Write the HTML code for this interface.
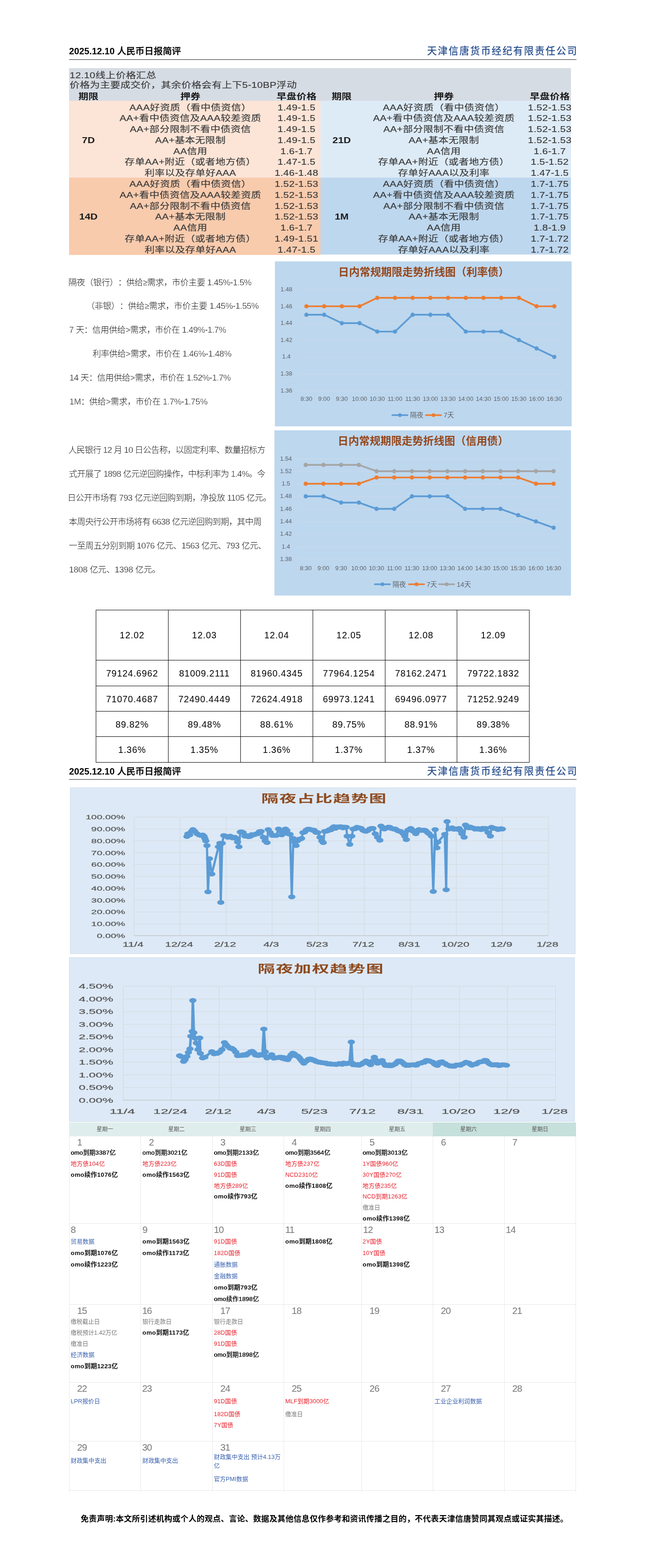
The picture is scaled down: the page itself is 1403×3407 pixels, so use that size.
<!DOCTYPE html><html lang="zh-CN"><head><meta charset="utf-8"><title>2025.12.10 人民币日报简评</title><style>
html,body{margin:0;padding:0;background:#fff;}
body{width:1403px;height:3407px;position:relative;overflow:hidden;font-family:"Liberation Sans","Noto Sans CJK SC",sans-serif;color:#000;}
.abs{position:absolute;}
.hdl{position:absolute;left:150px;font-weight:bold;font-size:19.8px;line-height:24px;white-space:nowrap;color:#000;}
.hdl .m{font-weight:500;-webkit-text-stroke:0.35px #000;}
.hdr{position:absolute;right:148px;font-size:21.3px;line-height:26px;letter-spacing:2.1px;white-space:nowrap;color:#2c5291;font-weight:500;}
.hline{position:absolute;left:150px;width:1102px;height:1.4px;background:#222;}
.t1{position:absolute;left:150px;top:148px;width:1090px;height:405px;font-size:18px;color:#3a3a3a;letter-spacing:0.3px;-webkit-text-stroke:0.2px #3a3a3a;}
.t1 .bg{position:absolute;}
.t1 .sx{position:absolute;left:0;top:0;width:904px;height:405px;transform:scaleX(1.205);transform-origin:0 0;}
.t1 .c{position:absolute;height:24px;line-height:24px;text-align:center;white-space:nowrap;transform:translateX(-50%);}
.t1 .l{position:absolute;height:24px;line-height:24px;white-space:nowrap;}
.t1 .b{font-weight:bold;color:#1a1a1a;letter-spacing:0;-webkit-text-stroke:0;}
.p{position:absolute;left:150px;font-family:"Liberation Sans","Noto Sans CJK SC",sans-serif;font-weight:300;font-size:18.4px;line-height:52px;color:#111;white-space:nowrap;text-spacing-trim:space-all;}
.p .d{-webkit-text-stroke:0.32px #fff;color:#1a1a1a;}
.dt2 .bl{position:absolute;background:#000;}
.dt2 .tx{position:absolute;height:24px;line-height:24px;text-align:center;font-size:19.6px;letter-spacing:0.95px;color:#000;white-space:nowrap;}
.cal{position:absolute;left:150px;top:2439px;width:1101px;height:803px;font-family:"Liberation Sans","Noto Sans CJK SC",sans-serif;}
.cal .h{position:absolute;top:0;height:29.5px;line-height:31px;text-align:center;font-size:12px;color:#555;background:#dfeeec;}
.cal .h.we{background:#c6e0dc;}
.cal .vl{position:absolute;width:1px;background:#e8e8e8;}
.cal .hl{position:absolute;height:1px;background:#e8e8e8;left:0;width:1101px;}
.cal .n{position:absolute;font-size:20.5px;line-height:24px;color:#777;font-weight:300;white-space:nowrap;letter-spacing:-1px;}
.cal .e{position:absolute;font-size:13.6px;line-height:18px;font-weight:bold;white-space:nowrap;color:#111;letter-spacing:0.3px;}
.cal .e.n{font-weight:normal;font-size:13.3px;letter-spacing:0.25px;color:#000;text-shadow:0.3px 0 0 #000;}
.cal .e.r{color:#e8202a;font-weight:normal;font-size:12.9px;letter-spacing:0.2px;}
.cal .e.g{color:#777;font-weight:normal;font-size:12.7px;letter-spacing:0;}
.cal .e.u{color:#3a62b0;font-weight:normal;font-size:12.9px;letter-spacing:0;}
.ft{position:absolute;left:175.3px;top:3285.5px;font-size:17.33px;line-height:28px;font-weight:bold;color:#000;white-space:nowrap;letter-spacing:0.22px;}
svg text{font-family:"Liberation Sans","Noto Sans CJK SC",sans-serif;}
</style></head><body>
<div class="hdl" style="top:99px">2025.12.10 <span class="m">人民币日报简评</span></div>
<div class="hdr" style="top:98px">天津信唐货币经纪有限责任公司</div>
<div class="hline" style="top:129px"></div>
<div class="hdl" style="top:1663.5px">2025.12.10 <span class="m">人民币日报简评</span></div>
<div class="hdr" style="top:1662.5px">天津信唐货币经纪有限责任公司</div>
<div class="hline" style="top:1692.5px"></div>
<div class="t1">
<div class="bg" style="left:0;top:0;width:1090px;height:72px;background:#d6dce4"></div>
<div class="bg" style="left:0;top:71px;width:546px;height:167.5px;background:#fce4d6"></div>
<div class="bg" style="left:0;top:238px;width:546px;height:167.5px;background:#f8cbad"></div>
<div class="bg" style="left:546px;top:71px;width:544px;height:167.5px;background:#ddebf7"></div>
<div class="bg" style="left:546px;top:238px;width:544px;height:166.5px;background:#bdd7ee"></div>
<div class="sx">
<div class="l" style="left:1px;top:3.5px">12.10线上价格汇总</div>
<div class="l" style="left:1px;top:25px">价格为主要成交价，其余价格会有上下5-10BP浮动</div>
<div class="c b" style="left:34.8548px;top:50px">期限</div>
<div class="c b" style="left:218.672px;top:50px">押券</div>
<div class="c b" style="left:409.959px;top:50px">早盘价格</div>
<div class="c b" style="left:491.286px;top:50px">期限</div>
<div class="c b" style="left:675.519px;top:50px">押券</div>
<div class="c b" style="left:866.39px;top:50px">早盘价格</div>
<div class="c " style="left:218.672px;top:73.5px">AAA好资质（看中债资信）</div>
<div class="c " style="left:409.959px;top:73.5px">1.49-1.5</div>
<div class="c " style="left:218.672px;top:97.28px">AA+看中债资信及AAA较差资质</div>
<div class="c " style="left:409.959px;top:97.28px">1.49-1.5</div>
<div class="c " style="left:218.672px;top:121.06px">AA+部分限制不看中债资信</div>
<div class="c " style="left:409.959px;top:121.06px">1.49-1.5</div>
<div class="c " style="left:218.672px;top:144.84px">AA+基本无限制</div>
<div class="c " style="left:409.959px;top:144.84px">1.49-1.5</div>
<div class="c " style="left:218.672px;top:168.62px">AA信用</div>
<div class="c " style="left:409.959px;top:168.62px">1.6-1.7</div>
<div class="c " style="left:218.672px;top:192.4px">存单AA+附近（或者地方债）</div>
<div class="c " style="left:409.959px;top:192.4px">1.47-1.5</div>
<div class="c " style="left:218.672px;top:216.18px">利率以及存单好AAA</div>
<div class="c " style="left:409.959px;top:216.18px">1.46-1.48</div>
<div class="c b" style="left:34.8548px;top:144.84px">7D</div>
<div class="c " style="left:218.672px;top:239.96px">AAA好资质（看中债资信）</div>
<div class="c " style="left:409.959px;top:239.96px">1.52-1.53</div>
<div class="c " style="left:218.672px;top:263.74px">AA+看中债资信及AAA较差资质</div>
<div class="c " style="left:409.959px;top:263.74px">1.52-1.53</div>
<div class="c " style="left:218.672px;top:287.52px">AA+部分限制不看中债资信</div>
<div class="c " style="left:409.959px;top:287.52px">1.52-1.53</div>
<div class="c " style="left:218.672px;top:311.3px">AA+基本无限制</div>
<div class="c " style="left:409.959px;top:311.3px">1.52-1.53</div>
<div class="c " style="left:218.672px;top:335.08px">AA信用</div>
<div class="c " style="left:409.959px;top:335.08px">1.6-1.7</div>
<div class="c " style="left:218.672px;top:358.86px">存单AA+附近（或者地方债）</div>
<div class="c " style="left:409.959px;top:358.86px">1.49-1.51</div>
<div class="c " style="left:218.672px;top:382.64px">利率以及存单好AAA</div>
<div class="c " style="left:409.959px;top:382.64px">1.47-1.5</div>
<div class="c b" style="left:34.8548px;top:311.3px">14D</div>
<div class="c " style="left:675.519px;top:73.5px">AAA好资质（看中债资信）</div>
<div class="c " style="left:866.39px;top:73.5px">1.52-1.53</div>
<div class="c " style="left:675.519px;top:97.28px">AA+看中债资信及AAA较差资质</div>
<div class="c " style="left:866.39px;top:97.28px">1.52-1.53</div>
<div class="c " style="left:675.519px;top:121.06px">AA+部分限制不看中债资信</div>
<div class="c " style="left:866.39px;top:121.06px">1.52-1.53</div>
<div class="c " style="left:675.519px;top:144.84px">AA+基本无限制</div>
<div class="c " style="left:866.39px;top:144.84px">1.52-1.53</div>
<div class="c " style="left:675.519px;top:168.62px">AA信用</div>
<div class="c " style="left:866.39px;top:168.62px">1.6-1.7</div>
<div class="c " style="left:675.519px;top:192.4px">存单AA+附近（或者地方债）</div>
<div class="c " style="left:866.39px;top:192.4px">1.5-1.52</div>
<div class="c " style="left:675.519px;top:216.18px">存单好AAA以及利率</div>
<div class="c " style="left:866.39px;top:216.18px">1.47-1.5</div>
<div class="c b" style="left:491.286px;top:144.84px">21D</div>
<div class="c " style="left:675.519px;top:239.96px">AAA好资质（看中债资信）</div>
<div class="c " style="left:866.39px;top:239.96px">1.7-1.75</div>
<div class="c " style="left:675.519px;top:263.74px">AA+看中债资信及AAA较差资质</div>
<div class="c " style="left:866.39px;top:263.74px">1.7-1.75</div>
<div class="c " style="left:675.519px;top:287.52px">AA+部分限制不看中债资信</div>
<div class="c " style="left:866.39px;top:287.52px">1.7-1.75</div>
<div class="c " style="left:675.519px;top:311.3px">AA+基本无限制</div>
<div class="c " style="left:866.39px;top:311.3px">1.7-1.75</div>
<div class="c " style="left:675.519px;top:335.08px">AA信用</div>
<div class="c " style="left:866.39px;top:335.08px">1.8-1.9</div>
<div class="c " style="left:675.519px;top:358.86px">存单AA+附近（或者地方债）</div>
<div class="c " style="left:866.39px;top:358.86px">1.7-1.72</div>
<div class="c " style="left:675.519px;top:382.64px">存单好AAA以及利率</div>
<div class="c " style="left:866.39px;top:382.64px">1.7-1.72</div>
<div class="c b" style="left:491.286px;top:311.3px">1M</div>
</div></div>
<div class="p" id="a1" style="left:148.6px;top:587.5px;letter-spacing:-0.444px">隔夜（银行）：供给<span class="d">≥</span>需求，市价主要 <span class="d">1.45%-1.5%</span></div>
<div class="p" id="a2" style="left:187.4px;top:638.5px;letter-spacing:-0.323px">（非银）：供给<span class="d">≥</span>需求，市价主要 <span class="d">1.45%-1.55%</span></div>
<div class="p" id="a3" style="left:150.2px;top:690.5px;letter-spacing:-0.432px"><span class="d">7</span> 天：信用供给<span class="d">&gt;</span>需求，市价在 <span class="d">1.49%-1.7%</span></div>
<div class="p" id="a4" style="left:201px;top:742.5px;letter-spacing:-0.382px">利率供给<span class="d">&gt;</span>需求，市价在 <span class="d">1.46%-1.48%</span></div>
<div class="p" id="a5" style="left:150.8px;top:794.5px;letter-spacing:-0.454px"><span class="d">14</span> 天：信用供给<span class="d">&gt;</span>需求，市价在 <span class="d">1.52%-1.7%</span></div>
<div class="p" id="a6" style="left:150.8px;top:846.5px;letter-spacing:-0.327px"><span class="d">1M</span>：供给<span class="d">&gt;</span>需求，市价在 <span class="d">1.7%-1.75%</span></div>
<div class="p" id="b1" style="left:148.6px;top:952px;letter-spacing:-0.7px">人民银行 <span class="d">12</span> 月 <span class="d">10</span> 日公告称，以固定利率、数量招标方</div>
<div class="p" id="b2" style="left:149.6px;top:1004px;letter-spacing:-0.71px">式开展了 <span class="d">1898</span> 亿元逆回购操作，中标利率为 <span class="d">1.4%</span>。今</div>
<div class="p" id="b3" style="left:146.6px;top:1056px;letter-spacing:-0.52px">日公开市场有 <span class="d">793</span> 亿元逆回购到期，净投放 <span class="d">1105</span> 亿元。</div>
<div class="p" id="b4" style="left:149.6px;top:1108px;letter-spacing:-0.715px">本周央行公开市场将有 <span class="d">6638</span> 亿元逆回购到期，其中周</div>
<div class="p" id="b5" style="left:149.6px;top:1160px;letter-spacing:-0.535px">一至周五分别到期 <span class="d">1076</span> 亿元、<span class="d">1563</span> 亿元、<span class="d">793</span> 亿元、</div>
<div class="p" id="b6" style="left:150px;top:1212px;letter-spacing:-0.267px"><span class="d">1808</span> 亿元、<span class="d">1398</span> 亿元。</div>
<svg class="abs" style="left:597px;top:568px" width="644.5" height="358.5" viewBox="0 0 644.5 358.5">
<rect x="0" y="0" width="644.5" height="358.5" fill="#bdd7ee"/>
<text x="323.25" y="31.3" text-anchor="middle" font-size="23.2" font-weight="bold" fill="#96471c">日内常规期限走势折线图（利率债）</text>
<line x1="49.5" y1="61.7" x2="625.8" y2="61.7" stroke="#ccdaea" stroke-width="1"/>
<text x="25" y="64.9" text-anchor="middle" font-size="13.2" fill="#5f6368">1.48</text>
<line x1="49.5" y1="98.34" x2="625.8" y2="98.34" stroke="#ccdaea" stroke-width="1"/>
<text x="25" y="101.54" text-anchor="middle" font-size="13.2" fill="#5f6368">1.46</text>
<line x1="49.5" y1="134.98" x2="625.8" y2="134.98" stroke="#ccdaea" stroke-width="1"/>
<text x="25" y="138.18" text-anchor="middle" font-size="13.2" fill="#5f6368">1.44</text>
<line x1="49.5" y1="171.62" x2="625.8" y2="171.62" stroke="#ccdaea" stroke-width="1"/>
<text x="25" y="174.82" text-anchor="middle" font-size="13.2" fill="#5f6368">1.42</text>
<line x1="49.5" y1="208.26" x2="625.8" y2="208.26" stroke="#ccdaea" stroke-width="1"/>
<text x="25" y="211.46" text-anchor="middle" font-size="13.2" fill="#5f6368">1.4</text>
<line x1="49.5" y1="244.9" x2="625.8" y2="244.9" stroke="#ccdaea" stroke-width="1"/>
<text x="25" y="248.1" text-anchor="middle" font-size="13.2" fill="#5f6368">1.38</text>
<line x1="49.5" y1="281.54" x2="625.8" y2="281.54" stroke="#ccdaea" stroke-width="1"/>
<text x="25" y="284.74" text-anchor="middle" font-size="13.2" fill="#5f6368">1.36</text>
<text x="68.5" y="302.6" text-anchor="middle" font-size="13.2" fill="#5f6368">8:30</text>
<text x="106.95" y="302.6" text-anchor="middle" font-size="13.2" fill="#5f6368">9:00</text>
<text x="145.4" y="302.6" text-anchor="middle" font-size="13.2" fill="#5f6368">9:30</text>
<text x="183.85" y="302.6" text-anchor="middle" font-size="13.2" fill="#5f6368">10:00</text>
<text x="222.3" y="302.6" text-anchor="middle" font-size="13.2" fill="#5f6368">10:30</text>
<text x="260.75" y="302.6" text-anchor="middle" font-size="13.2" fill="#5f6368">11:00</text>
<text x="299.2" y="302.6" text-anchor="middle" font-size="13.2" fill="#5f6368">11:30</text>
<text x="337.65" y="302.6" text-anchor="middle" font-size="13.2" fill="#5f6368">13:00</text>
<text x="376.1" y="302.6" text-anchor="middle" font-size="13.2" fill="#5f6368">13:30</text>
<text x="414.55" y="302.6" text-anchor="middle" font-size="13.2" fill="#5f6368">14:00</text>
<text x="453" y="302.6" text-anchor="middle" font-size="13.2" fill="#5f6368">14:30</text>
<text x="491.45" y="302.6" text-anchor="middle" font-size="13.2" fill="#5f6368">15:00</text>
<text x="529.9" y="302.6" text-anchor="middle" font-size="13.2" fill="#5f6368">15:30</text>
<text x="568.35" y="302.6" text-anchor="middle" font-size="13.2" fill="#5f6368">16:00</text>
<text x="606.8" y="302.6" text-anchor="middle" font-size="13.2" fill="#5f6368">16:30</text>
<polyline fill="none" stroke="#5b9bd5" stroke-width="3.7" stroke-linejoin="round" stroke-linecap="round" points="68.5,115.9 107.0,115.9 145.4,134.2 183.9,134.2 222.3,152.5 260.8,152.5 299.2,115.9 337.7,115.9 376.1,115.9 414.6,152.5 453.0,152.5 491.5,152.5 529.9,170.8 568.4,189.1 606.8,207.5"/>
<circle cx="68.5" cy="115.9" r="4.6" fill="#5b9bd5"/>
<circle cx="107.0" cy="115.9" r="4.6" fill="#5b9bd5"/>
<circle cx="145.4" cy="134.2" r="4.6" fill="#5b9bd5"/>
<circle cx="183.9" cy="134.2" r="4.6" fill="#5b9bd5"/>
<circle cx="222.3" cy="152.5" r="4.6" fill="#5b9bd5"/>
<circle cx="260.8" cy="152.5" r="4.6" fill="#5b9bd5"/>
<circle cx="299.2" cy="115.9" r="4.6" fill="#5b9bd5"/>
<circle cx="337.7" cy="115.9" r="4.6" fill="#5b9bd5"/>
<circle cx="376.1" cy="115.9" r="4.6" fill="#5b9bd5"/>
<circle cx="414.6" cy="152.5" r="4.6" fill="#5b9bd5"/>
<circle cx="453.0" cy="152.5" r="4.6" fill="#5b9bd5"/>
<circle cx="491.5" cy="152.5" r="4.6" fill="#5b9bd5"/>
<circle cx="529.9" cy="170.8" r="4.6" fill="#5b9bd5"/>
<circle cx="568.4" cy="189.1" r="4.6" fill="#5b9bd5"/>
<circle cx="606.8" cy="207.5" r="4.6" fill="#5b9bd5"/>
<polyline fill="none" stroke="#ed7d31" stroke-width="3.7" stroke-linejoin="round" stroke-linecap="round" points="68.5,97.5 107.0,97.5 145.4,97.5 183.9,97.5 222.3,79.2 260.8,79.2 299.2,79.2 337.7,79.2 376.1,79.2 414.6,79.2 453.0,79.2 491.5,79.2 529.9,79.2 568.4,97.5 606.8,97.5"/>
<circle cx="68.5" cy="97.5" r="4.6" fill="#ed7d31"/>
<circle cx="107.0" cy="97.5" r="4.6" fill="#ed7d31"/>
<circle cx="145.4" cy="97.5" r="4.6" fill="#ed7d31"/>
<circle cx="183.9" cy="97.5" r="4.6" fill="#ed7d31"/>
<circle cx="222.3" cy="79.2" r="4.6" fill="#ed7d31"/>
<circle cx="260.8" cy="79.2" r="4.6" fill="#ed7d31"/>
<circle cx="299.2" cy="79.2" r="4.6" fill="#ed7d31"/>
<circle cx="337.7" cy="79.2" r="4.6" fill="#ed7d31"/>
<circle cx="376.1" cy="79.2" r="4.6" fill="#ed7d31"/>
<circle cx="414.6" cy="79.2" r="4.6" fill="#ed7d31"/>
<circle cx="453.0" cy="79.2" r="4.6" fill="#ed7d31"/>
<circle cx="491.5" cy="79.2" r="4.6" fill="#ed7d31"/>
<circle cx="529.9" cy="79.2" r="4.6" fill="#ed7d31"/>
<circle cx="568.4" cy="97.5" r="4.6" fill="#ed7d31"/>
<circle cx="606.8" cy="97.5" r="4.6" fill="#ed7d31"/>
<line x1="255" y1="334" x2="288" y2="334" stroke="#5b9bd5" stroke-width="3.5" stroke-linecap="round"/>
<circle cx="271.5" cy="334" r="4" fill="#5b9bd5"/>
<text x="293.5" y="339.2" font-size="14.5" fill="#5f6368">隔夜</text>
<line x1="328" y1="334" x2="361" y2="334" stroke="#ed7d31" stroke-width="3.5" stroke-linecap="round"/>
<circle cx="344.5" cy="334" r="4" fill="#ed7d31"/>
<text x="366.5" y="339.2" font-size="14.5" fill="#5f6368">7天</text>
</svg>
<svg class="abs" style="left:596px;top:935px" width="644" height="359" viewBox="0 0 644 359">
<rect x="0" y="0" width="644" height="359" fill="#bdd7ee"/>
<text x="323" y="31.3" text-anchor="middle" font-size="23.2" font-weight="bold" fill="#96471c">日内常规期限走势折线图（信用债）</text>
<line x1="49" y1="62.3" x2="625.3" y2="62.3" stroke="#ccdaea" stroke-width="1"/>
<text x="25" y="65.5" text-anchor="middle" font-size="13.2" fill="#5f6368">1.54</text>
<line x1="49" y1="89.6" x2="625.3" y2="89.6" stroke="#ccdaea" stroke-width="1"/>
<text x="25" y="92.8" text-anchor="middle" font-size="13.2" fill="#5f6368">1.52</text>
<line x1="49" y1="116.9" x2="625.3" y2="116.9" stroke="#ccdaea" stroke-width="1"/>
<text x="25" y="120.1" text-anchor="middle" font-size="13.2" fill="#5f6368">1.5</text>
<line x1="49" y1="144.2" x2="625.3" y2="144.2" stroke="#ccdaea" stroke-width="1"/>
<text x="25" y="147.4" text-anchor="middle" font-size="13.2" fill="#5f6368">1.48</text>
<line x1="49" y1="171.5" x2="625.3" y2="171.5" stroke="#ccdaea" stroke-width="1"/>
<text x="25" y="174.7" text-anchor="middle" font-size="13.2" fill="#5f6368">1.46</text>
<line x1="49" y1="198.8" x2="625.3" y2="198.8" stroke="#ccdaea" stroke-width="1"/>
<text x="25" y="202" text-anchor="middle" font-size="13.2" fill="#5f6368">1.44</text>
<line x1="49" y1="226.1" x2="625.3" y2="226.1" stroke="#ccdaea" stroke-width="1"/>
<text x="25" y="229.3" text-anchor="middle" font-size="13.2" fill="#5f6368">1.42</text>
<line x1="49" y1="253.4" x2="625.3" y2="253.4" stroke="#ccdaea" stroke-width="1"/>
<text x="25" y="256.6" text-anchor="middle" font-size="13.2" fill="#5f6368">1.4</text>
<line x1="49" y1="280.7" x2="625.3" y2="280.7" stroke="#ccdaea" stroke-width="1"/>
<text x="25" y="283.9" text-anchor="middle" font-size="13.2" fill="#5f6368">1.38</text>
<text x="68" y="303.6" text-anchor="middle" font-size="13.2" fill="#5f6368">8:30</text>
<text x="106.45" y="303.6" text-anchor="middle" font-size="13.2" fill="#5f6368">9:00</text>
<text x="144.9" y="303.6" text-anchor="middle" font-size="13.2" fill="#5f6368">9:30</text>
<text x="183.35" y="303.6" text-anchor="middle" font-size="13.2" fill="#5f6368">10:00</text>
<text x="221.8" y="303.6" text-anchor="middle" font-size="13.2" fill="#5f6368">10:30</text>
<text x="260.25" y="303.6" text-anchor="middle" font-size="13.2" fill="#5f6368">11:00</text>
<text x="298.7" y="303.6" text-anchor="middle" font-size="13.2" fill="#5f6368">11:30</text>
<text x="337.15" y="303.6" text-anchor="middle" font-size="13.2" fill="#5f6368">13:00</text>
<text x="375.6" y="303.6" text-anchor="middle" font-size="13.2" fill="#5f6368">13:30</text>
<text x="414.05" y="303.6" text-anchor="middle" font-size="13.2" fill="#5f6368">14:00</text>
<text x="452.5" y="303.6" text-anchor="middle" font-size="13.2" fill="#5f6368">14:30</text>
<text x="490.95" y="303.6" text-anchor="middle" font-size="13.2" fill="#5f6368">15:00</text>
<text x="529.4" y="303.6" text-anchor="middle" font-size="13.2" fill="#5f6368">15:30</text>
<text x="567.85" y="303.6" text-anchor="middle" font-size="13.2" fill="#5f6368">16:00</text>
<text x="606.3" y="303.6" text-anchor="middle" font-size="13.2" fill="#5f6368">16:30</text>
<polyline fill="none" stroke="#5b9bd5" stroke-width="3.7" stroke-linejoin="round" stroke-linecap="round" points="68.0,143.4 106.5,143.4 144.9,157.1 183.4,157.1 221.8,170.7 260.2,170.7 298.7,143.4 337.2,143.4 375.6,143.4 414.1,170.7 452.5,170.7 491.0,170.7 529.4,184.4 567.9,198.0 606.3,211.7"/>
<circle cx="68.0" cy="143.4" r="4.6" fill="#5b9bd5"/>
<circle cx="106.5" cy="143.4" r="4.6" fill="#5b9bd5"/>
<circle cx="144.9" cy="157.1" r="4.6" fill="#5b9bd5"/>
<circle cx="183.4" cy="157.1" r="4.6" fill="#5b9bd5"/>
<circle cx="221.8" cy="170.7" r="4.6" fill="#5b9bd5"/>
<circle cx="260.2" cy="170.7" r="4.6" fill="#5b9bd5"/>
<circle cx="298.7" cy="143.4" r="4.6" fill="#5b9bd5"/>
<circle cx="337.2" cy="143.4" r="4.6" fill="#5b9bd5"/>
<circle cx="375.6" cy="143.4" r="4.6" fill="#5b9bd5"/>
<circle cx="414.1" cy="170.7" r="4.6" fill="#5b9bd5"/>
<circle cx="452.5" cy="170.7" r="4.6" fill="#5b9bd5"/>
<circle cx="491.0" cy="170.7" r="4.6" fill="#5b9bd5"/>
<circle cx="529.4" cy="184.4" r="4.6" fill="#5b9bd5"/>
<circle cx="567.9" cy="198.0" r="4.6" fill="#5b9bd5"/>
<circle cx="606.3" cy="211.7" r="4.6" fill="#5b9bd5"/>
<polyline fill="none" stroke="#ed7d31" stroke-width="3.7" stroke-linejoin="round" stroke-linecap="round" points="68.0,116.1 106.5,116.1 144.9,116.1 183.4,116.1 221.8,102.5 260.2,102.5 298.7,102.5 337.2,102.5 375.6,102.5 414.1,102.5 452.5,102.5 491.0,102.5 529.4,102.5 567.9,116.1 606.3,116.1"/>
<circle cx="68.0" cy="116.1" r="4.6" fill="#ed7d31"/>
<circle cx="106.5" cy="116.1" r="4.6" fill="#ed7d31"/>
<circle cx="144.9" cy="116.1" r="4.6" fill="#ed7d31"/>
<circle cx="183.4" cy="116.1" r="4.6" fill="#ed7d31"/>
<circle cx="221.8" cy="102.5" r="4.6" fill="#ed7d31"/>
<circle cx="260.2" cy="102.5" r="4.6" fill="#ed7d31"/>
<circle cx="298.7" cy="102.5" r="4.6" fill="#ed7d31"/>
<circle cx="337.2" cy="102.5" r="4.6" fill="#ed7d31"/>
<circle cx="375.6" cy="102.5" r="4.6" fill="#ed7d31"/>
<circle cx="414.1" cy="102.5" r="4.6" fill="#ed7d31"/>
<circle cx="452.5" cy="102.5" r="4.6" fill="#ed7d31"/>
<circle cx="491.0" cy="102.5" r="4.6" fill="#ed7d31"/>
<circle cx="529.4" cy="102.5" r="4.6" fill="#ed7d31"/>
<circle cx="567.9" cy="116.1" r="4.6" fill="#ed7d31"/>
<circle cx="606.3" cy="116.1" r="4.6" fill="#ed7d31"/>
<polyline fill="none" stroke="#a5a5a5" stroke-width="3.7" stroke-linejoin="round" stroke-linecap="round" points="68.0,75.2 106.5,75.2 144.9,75.2 183.4,75.2 221.8,88.8 260.2,88.8 298.7,88.8 337.2,88.8 375.6,88.8 414.1,88.8 452.5,88.8 491.0,88.8 529.4,88.8 567.9,88.8 606.3,88.8"/>
<circle cx="68.0" cy="75.2" r="4.6" fill="#a5a5a5"/>
<circle cx="106.5" cy="75.2" r="4.6" fill="#a5a5a5"/>
<circle cx="144.9" cy="75.2" r="4.6" fill="#a5a5a5"/>
<circle cx="183.4" cy="75.2" r="4.6" fill="#a5a5a5"/>
<circle cx="221.8" cy="88.8" r="4.6" fill="#a5a5a5"/>
<circle cx="260.2" cy="88.8" r="4.6" fill="#a5a5a5"/>
<circle cx="298.7" cy="88.8" r="4.6" fill="#a5a5a5"/>
<circle cx="337.2" cy="88.8" r="4.6" fill="#a5a5a5"/>
<circle cx="375.6" cy="88.8" r="4.6" fill="#a5a5a5"/>
<circle cx="414.1" cy="88.8" r="4.6" fill="#a5a5a5"/>
<circle cx="452.5" cy="88.8" r="4.6" fill="#a5a5a5"/>
<circle cx="491.0" cy="88.8" r="4.6" fill="#a5a5a5"/>
<circle cx="529.4" cy="88.8" r="4.6" fill="#a5a5a5"/>
<circle cx="567.9" cy="88.8" r="4.6" fill="#a5a5a5"/>
<circle cx="606.3" cy="88.8" r="4.6" fill="#a5a5a5"/>
<line x1="218" y1="334.5" x2="251" y2="334.5" stroke="#5b9bd5" stroke-width="3.5" stroke-linecap="round"/>
<circle cx="234.5" cy="334.5" r="4" fill="#5b9bd5"/>
<text x="256.5" y="339.7" font-size="14.5" fill="#5f6368">隔夜</text>
<line x1="292" y1="334.5" x2="325" y2="334.5" stroke="#ed7d31" stroke-width="3.5" stroke-linecap="round"/>
<circle cx="308.5" cy="334.5" r="4" fill="#ed7d31"/>
<text x="330.5" y="339.7" font-size="14.5" fill="#5f6368">7天</text>
<line x1="357.5" y1="334.5" x2="390.5" y2="334.5" stroke="#a5a5a5" stroke-width="3.5" stroke-linecap="round"/>
<circle cx="374" cy="334.5" r="4" fill="#a5a5a5"/>
<text x="396" y="339.7" font-size="14.5" fill="#5f6368">14天</text>
</svg>
<div class="dt2">
<div class="bl" style="left:208px;top:1325px;width:942.2px;height:1.2px"></div>
<div class="bl" style="left:208px;top:1434px;width:942.2px;height:1.2px"></div>
<div class="bl" style="left:208px;top:1490px;width:942.2px;height:1.2px"></div>
<div class="bl" style="left:208px;top:1545px;width:942.2px;height:1.2px"></div>
<div class="bl" style="left:208px;top:1600px;width:942.2px;height:1.2px"></div>
<div class="bl" style="left:208px;top:1656px;width:942.2px;height:1.2px"></div>
<div class="bl" style="left:208px;top:1325px;width:1.2px;height:332.2px"></div>
<div class="bl" style="left:365px;top:1325px;width:1.2px;height:332.2px"></div>
<div class="bl" style="left:522px;top:1325px;width:1.2px;height:332.2px"></div>
<div class="bl" style="left:679px;top:1325px;width:1.2px;height:332.2px"></div>
<div class="bl" style="left:836px;top:1325px;width:1.2px;height:332.2px"></div>
<div class="bl" style="left:992px;top:1325px;width:1.2px;height:332.2px"></div>
<div class="bl" style="left:1149px;top:1325px;width:1.2px;height:332.2px"></div>
<div class="tx" style="left:208.5px;top:1368.35px;width:157px">12.02</div>
<div class="tx" style="left:365.5px;top:1368.35px;width:157px">12.03</div>
<div class="tx" style="left:522.5px;top:1368.35px;width:157px">12.04</div>
<div class="tx" style="left:679.5px;top:1368.35px;width:156.5px">12.05</div>
<div class="tx" style="left:836px;top:1368.35px;width:157px">12.08</div>
<div class="tx" style="left:993px;top:1368.35px;width:156.5px">12.09</div>
<div class="tx" style="left:208.5px;top:1451.05px;width:157px">79124.6962</div>
<div class="tx" style="left:365.5px;top:1451.05px;width:157px">81009.2111</div>
<div class="tx" style="left:522.5px;top:1451.05px;width:157px">81960.4345</div>
<div class="tx" style="left:679.5px;top:1451.05px;width:156.5px">77964.1254</div>
<div class="tx" style="left:836px;top:1451.05px;width:157px">78162.2471</div>
<div class="tx" style="left:993px;top:1451.05px;width:156.5px">79722.1832</div>
<div class="tx" style="left:208.5px;top:1506.85px;width:157px">71070.4687</div>
<div class="tx" style="left:365.5px;top:1506.85px;width:157px">72490.4449</div>
<div class="tx" style="left:522.5px;top:1506.85px;width:157px">72624.4918</div>
<div class="tx" style="left:679.5px;top:1506.85px;width:156.5px">69973.1241</div>
<div class="tx" style="left:836px;top:1506.85px;width:157px">69496.0977</div>
<div class="tx" style="left:993px;top:1506.85px;width:156.5px">71252.9249</div>
<div class="tx" style="left:208.5px;top:1561.8px;width:157px">89.82%</div>
<div class="tx" style="left:365.5px;top:1561.8px;width:157px">89.48%</div>
<div class="tx" style="left:522.5px;top:1561.8px;width:157px">88.61%</div>
<div class="tx" style="left:679.5px;top:1561.8px;width:156.5px">89.75%</div>
<div class="tx" style="left:836px;top:1561.8px;width:157px">88.91%</div>
<div class="tx" style="left:993px;top:1561.8px;width:156.5px">89.38%</div>
<div class="tx" style="left:208.5px;top:1617px;width:157px">1.36%</div>
<div class="tx" style="left:365.5px;top:1617px;width:157px">1.35%</div>
<div class="tx" style="left:522.5px;top:1617px;width:157px">1.36%</div>
<div class="tx" style="left:679.5px;top:1617px;width:156.5px">1.37%</div>
<div class="tx" style="left:836px;top:1617px;width:157px">1.37%</div>
<div class="tx" style="left:993px;top:1617px;width:156.5px">1.36%</div>
</div>
<svg class="abs" style="left:152px;top:1711px" width="1098" height="362" viewBox="0 0 1098 362">
<rect x="0.5" y="0.5" width="1097" height="361" fill="#dde9f6" stroke="#d3dde8" stroke-width="1"/>
<text transform="translate(552,32.3) scale(1.66,1)" text-anchor="middle" font-size="22.5" font-weight="bold" letter-spacing="1" fill="#8e4a1e">隔夜占比趋势图</text>
<line x1="139" y1="64.5" x2="1039" y2="64.5" stroke="#d5d9de" stroke-width="1"/>
<text transform="translate(120,69.288) scale(1.64,1)" text-anchor="end" font-size="13.3" fill="#595959" stroke="#595959" stroke-width="0.3">100.00%</text>
<line x1="139" y1="90.25" x2="1039" y2="90.25" stroke="#d5d9de" stroke-width="1"/>
<text transform="translate(120,95.038) scale(1.64,1)" text-anchor="end" font-size="13.3" fill="#595959" stroke="#595959" stroke-width="0.3">90.00%</text>
<line x1="139" y1="116" x2="1039" y2="116" stroke="#d5d9de" stroke-width="1"/>
<text transform="translate(120,120.788) scale(1.64,1)" text-anchor="end" font-size="13.3" fill="#595959" stroke="#595959" stroke-width="0.3">80.00%</text>
<line x1="139" y1="141.75" x2="1039" y2="141.75" stroke="#d5d9de" stroke-width="1"/>
<text transform="translate(120,146.538) scale(1.64,1)" text-anchor="end" font-size="13.3" fill="#595959" stroke="#595959" stroke-width="0.3">70.00%</text>
<line x1="139" y1="167.5" x2="1039" y2="167.5" stroke="#d5d9de" stroke-width="1"/>
<text transform="translate(120,172.288) scale(1.64,1)" text-anchor="end" font-size="13.3" fill="#595959" stroke="#595959" stroke-width="0.3">60.00%</text>
<line x1="139" y1="193.25" x2="1039" y2="193.25" stroke="#d5d9de" stroke-width="1"/>
<text transform="translate(120,198.038) scale(1.64,1)" text-anchor="end" font-size="13.3" fill="#595959" stroke="#595959" stroke-width="0.3">50.00%</text>
<line x1="139" y1="219" x2="1039" y2="219" stroke="#d5d9de" stroke-width="1"/>
<text transform="translate(120,223.788) scale(1.64,1)" text-anchor="end" font-size="13.3" fill="#595959" stroke="#595959" stroke-width="0.3">40.00%</text>
<line x1="139" y1="244.75" x2="1039" y2="244.75" stroke="#d5d9de" stroke-width="1"/>
<text transform="translate(120,249.538) scale(1.64,1)" text-anchor="end" font-size="13.3" fill="#595959" stroke="#595959" stroke-width="0.3">30.00%</text>
<line x1="139" y1="270.5" x2="1039" y2="270.5" stroke="#d5d9de" stroke-width="1"/>
<text transform="translate(120,275.288) scale(1.64,1)" text-anchor="end" font-size="13.3" fill="#595959" stroke="#595959" stroke-width="0.3">20.00%</text>
<line x1="139" y1="296.25" x2="1039" y2="296.25" stroke="#d5d9de" stroke-width="1"/>
<text transform="translate(120,301.038) scale(1.64,1)" text-anchor="end" font-size="13.3" fill="#595959" stroke="#595959" stroke-width="0.3">10.00%</text>
<line x1="139" y1="322" x2="1039" y2="322" stroke="#d5d9de" stroke-width="1"/>
<text transform="translate(120,326.788) scale(1.64,1)" text-anchor="end" font-size="13.3" fill="#595959" stroke="#595959" stroke-width="0.3">0.00%</text>
<line x1="139" y1="64.5" x2="139" y2="322" stroke="#d4d8dd" stroke-width="1.1"/>
<text transform="translate(137,345.54) scale(1.74,1)" text-anchor="middle" font-size="14" fill="#595959" stroke="#595959" stroke-width="0.3">11/4</text>
<line x1="239" y1="64.5" x2="239" y2="322" stroke="#d4d8dd" stroke-width="1.1"/>
<text transform="translate(237,345.54) scale(1.74,1)" text-anchor="middle" font-size="14" fill="#595959" stroke="#595959" stroke-width="0.3">12/24</text>
<line x1="339" y1="64.5" x2="339" y2="322" stroke="#d4d8dd" stroke-width="1.1"/>
<text transform="translate(337,345.54) scale(1.74,1)" text-anchor="middle" font-size="14" fill="#595959" stroke="#595959" stroke-width="0.3">2/12</text>
<line x1="439" y1="64.5" x2="439" y2="322" stroke="#d4d8dd" stroke-width="1.1"/>
<text transform="translate(437,345.54) scale(1.74,1)" text-anchor="middle" font-size="14" fill="#595959" stroke="#595959" stroke-width="0.3">4/3</text>
<line x1="539" y1="64.5" x2="539" y2="322" stroke="#d4d8dd" stroke-width="1.1"/>
<text transform="translate(537,345.54) scale(1.74,1)" text-anchor="middle" font-size="14" fill="#595959" stroke="#595959" stroke-width="0.3">5/23</text>
<line x1="639" y1="64.5" x2="639" y2="322" stroke="#d4d8dd" stroke-width="1.1"/>
<text transform="translate(637,345.54) scale(1.74,1)" text-anchor="middle" font-size="14" fill="#595959" stroke="#595959" stroke-width="0.3">7/12</text>
<line x1="739" y1="64.5" x2="739" y2="322" stroke="#d4d8dd" stroke-width="1.1"/>
<text transform="translate(737,345.54) scale(1.74,1)" text-anchor="middle" font-size="14" fill="#595959" stroke="#595959" stroke-width="0.3">8/31</text>
<line x1="839" y1="64.5" x2="839" y2="322" stroke="#d4d8dd" stroke-width="1.1"/>
<text transform="translate(837,345.54) scale(1.74,1)" text-anchor="middle" font-size="14" fill="#595959" stroke="#595959" stroke-width="0.3">10/20</text>
<line x1="939" y1="64.5" x2="939" y2="322" stroke="#d4d8dd" stroke-width="1.1"/>
<text transform="translate(937,345.54) scale(1.74,1)" text-anchor="middle" font-size="14" fill="#595959" stroke="#595959" stroke-width="0.3">12/9</text>
<line x1="1039" y1="64.5" x2="1039" y2="322" stroke="#d4d8dd" stroke-width="1.1"/>
<text transform="translate(1037,345.54) scale(1.74,1)" text-anchor="middle" font-size="14" fill="#595959" stroke="#595959" stroke-width="0.3">1/28</text>
<line x1="139" y1="322" x2="1039" y2="322" stroke="#c4c8cc" stroke-width="1.3"/>
<polyline fill="none" stroke="#5b9bd5" stroke-width="4.8" stroke-linejoin="round" stroke-linecap="round" points="254.0,106.5 256.0,100.6 260.0,103.1 264.0,95.4 267.0,91.5 271.0,95.4 276.0,100.6 280.0,103.1 284.0,104.4 288.0,103.1 291.0,105.7 293.0,110.8 295.0,116.0 297.5,126.3 299.7,226.7 303.0,154.6 308.0,188.1 322.5,128.9 325.5,121.2 327.5,249.9 330.5,121.2 334.0,104.4 338.0,105.7 343.0,108.3 348.0,105.7 353.0,109.6 358.0,108.3 361.0,110.8 364.0,118.6 367.0,128.9 370.0,96.7 376.0,98.0 380.0,105.7 388.0,107.0 398.0,103.1 408.0,100.6 415.0,95.4 420.0,108.3 424.0,116.0 428.0,119.9 430.5,91.5 435.0,98.0 440.0,104.4 448.0,104.4 453.0,90.2 460.0,103.1 468.0,90.2 474.0,100.6 478.0,101.8 481.7,237.8 485.0,110.8 488.0,118.6 491.0,126.3 494.0,116.0 503.0,110.8 506.0,98.0 513.0,92.8 523.0,91.5 530.0,92.8 538.0,98.0 543.0,108.3 547.0,116.0 550.0,119.9 553.0,95.4 560.0,94.1 570.0,87.7 583.0,86.4 593.0,87.7 600.0,86.4 602.0,105.7 607.5,123.7 612.0,105.7 615.0,90.2 623.0,86.4 628.0,87.7 636.0,92.8 643.0,95.4 651.0,90.2 658.0,89.0 663.0,100.6 668.0,108.3 673.0,114.7 675.5,83.8 683.0,90.2 688.0,87.7 698.0,89.0 703.0,90.2 710.0,92.8 718.0,95.4 724.0,100.6 730.5,113.4 734.0,92.8 740.0,89.0 746.0,95.4 751.0,100.6 758.0,91.5 768.0,92.8 774.0,95.4 780.0,100.6 785.0,105.7 789.0,226.0 793.0,91.5 797.0,131.4 799.0,118.6 814.0,101.6 817.0,222.3 819.0,74.0 823.0,90.2 830.0,87.7 838.0,90.2 845.0,89.0 851.0,100.6 856.0,108.3 859.0,81.5 866.0,87.7 873.0,87.7 883.0,90.2 893.0,91.5 903.0,89.0 908.0,98.0 913.0,105.7 915.5,86.4 923.0,89.0 933.0,90.2 939.0,90.2"/>
<path d="M254.0 106.5m-7.9 0a7.9 5.2 0 1 0 15.8 0a7.9 5.2 0 1 0 -15.8 0zM256.0 100.6m-7.9 0a7.9 5.2 0 1 0 15.8 0a7.9 5.2 0 1 0 -15.8 0zM260.0 103.1m-7.9 0a7.9 5.2 0 1 0 15.8 0a7.9 5.2 0 1 0 -15.8 0zM264.0 95.4m-7.9 0a7.9 5.2 0 1 0 15.8 0a7.9 5.2 0 1 0 -15.8 0zM267.0 91.5m-7.9 0a7.9 5.2 0 1 0 15.8 0a7.9 5.2 0 1 0 -15.8 0zM271.0 95.4m-7.9 0a7.9 5.2 0 1 0 15.8 0a7.9 5.2 0 1 0 -15.8 0zM276.0 100.6m-7.9 0a7.9 5.2 0 1 0 15.8 0a7.9 5.2 0 1 0 -15.8 0zM280.0 103.1m-7.9 0a7.9 5.2 0 1 0 15.8 0a7.9 5.2 0 1 0 -15.8 0zM284.0 104.4m-7.9 0a7.9 5.2 0 1 0 15.8 0a7.9 5.2 0 1 0 -15.8 0zM288.0 103.1m-7.9 0a7.9 5.2 0 1 0 15.8 0a7.9 5.2 0 1 0 -15.8 0zM291.0 105.7m-7.9 0a7.9 5.2 0 1 0 15.8 0a7.9 5.2 0 1 0 -15.8 0zM293.0 110.8m-7.9 0a7.9 5.2 0 1 0 15.8 0a7.9 5.2 0 1 0 -15.8 0zM295.0 116.0m-7.9 0a7.9 5.2 0 1 0 15.8 0a7.9 5.2 0 1 0 -15.8 0zM297.5 126.3m-7.9 0a7.9 5.2 0 1 0 15.8 0a7.9 5.2 0 1 0 -15.8 0zM299.7 226.7m-7.9 0a7.9 5.2 0 1 0 15.8 0a7.9 5.2 0 1 0 -15.8 0zM303.0 154.6m-7.9 0a7.9 5.2 0 1 0 15.8 0a7.9 5.2 0 1 0 -15.8 0zM308.0 188.1m-7.9 0a7.9 5.2 0 1 0 15.8 0a7.9 5.2 0 1 0 -15.8 0zM322.5 128.9m-7.9 0a7.9 5.2 0 1 0 15.8 0a7.9 5.2 0 1 0 -15.8 0zM325.5 121.2m-7.9 0a7.9 5.2 0 1 0 15.8 0a7.9 5.2 0 1 0 -15.8 0zM327.5 249.9m-7.9 0a7.9 5.2 0 1 0 15.8 0a7.9 5.2 0 1 0 -15.8 0zM330.5 121.2m-7.9 0a7.9 5.2 0 1 0 15.8 0a7.9 5.2 0 1 0 -15.8 0zM334.0 104.4m-7.9 0a7.9 5.2 0 1 0 15.8 0a7.9 5.2 0 1 0 -15.8 0zM338.0 105.7m-7.9 0a7.9 5.2 0 1 0 15.8 0a7.9 5.2 0 1 0 -15.8 0zM343.0 108.3m-7.9 0a7.9 5.2 0 1 0 15.8 0a7.9 5.2 0 1 0 -15.8 0zM348.0 105.7m-7.9 0a7.9 5.2 0 1 0 15.8 0a7.9 5.2 0 1 0 -15.8 0zM353.0 109.6m-7.9 0a7.9 5.2 0 1 0 15.8 0a7.9 5.2 0 1 0 -15.8 0zM358.0 108.3m-7.9 0a7.9 5.2 0 1 0 15.8 0a7.9 5.2 0 1 0 -15.8 0zM361.0 110.8m-7.9 0a7.9 5.2 0 1 0 15.8 0a7.9 5.2 0 1 0 -15.8 0zM364.0 118.6m-7.9 0a7.9 5.2 0 1 0 15.8 0a7.9 5.2 0 1 0 -15.8 0zM367.0 128.9m-7.9 0a7.9 5.2 0 1 0 15.8 0a7.9 5.2 0 1 0 -15.8 0zM370.0 96.7m-7.9 0a7.9 5.2 0 1 0 15.8 0a7.9 5.2 0 1 0 -15.8 0zM373.0 96.5m-7.9 0a7.9 5.2 0 1 0 15.8 0a7.9 5.2 0 1 0 -15.8 0zM376.0 98.0m-7.9 0a7.9 5.2 0 1 0 15.8 0a7.9 5.2 0 1 0 -15.8 0zM380.0 105.7m-7.9 0a7.9 5.2 0 1 0 15.8 0a7.9 5.2 0 1 0 -15.8 0zM384.0 104.7m-7.9 0a7.9 5.2 0 1 0 15.8 0a7.9 5.2 0 1 0 -15.8 0zM388.0 107.0m-7.9 0a7.9 5.2 0 1 0 15.8 0a7.9 5.2 0 1 0 -15.8 0zM391.3 106.4m-7.9 0a7.9 5.2 0 1 0 15.8 0a7.9 5.2 0 1 0 -15.8 0zM394.7 102.4m-7.9 0a7.9 5.2 0 1 0 15.8 0a7.9 5.2 0 1 0 -15.8 0zM398.0 103.1m-7.9 0a7.9 5.2 0 1 0 15.8 0a7.9 5.2 0 1 0 -15.8 0zM401.3 102.4m-7.9 0a7.9 5.2 0 1 0 15.8 0a7.9 5.2 0 1 0 -15.8 0zM404.7 100.8m-7.9 0a7.9 5.2 0 1 0 15.8 0a7.9 5.2 0 1 0 -15.8 0zM408.0 100.6m-7.9 0a7.9 5.2 0 1 0 15.8 0a7.9 5.2 0 1 0 -15.8 0zM411.5 95.9m-7.9 0a7.9 5.2 0 1 0 15.8 0a7.9 5.2 0 1 0 -15.8 0zM415.0 95.4m-7.9 0a7.9 5.2 0 1 0 15.8 0a7.9 5.2 0 1 0 -15.8 0zM420.0 108.3m-7.9 0a7.9 5.2 0 1 0 15.8 0a7.9 5.2 0 1 0 -15.8 0zM424.0 116.0m-7.9 0a7.9 5.2 0 1 0 15.8 0a7.9 5.2 0 1 0 -15.8 0zM428.0 119.9m-7.9 0a7.9 5.2 0 1 0 15.8 0a7.9 5.2 0 1 0 -15.8 0zM430.5 91.5m-7.9 0a7.9 5.2 0 1 0 15.8 0a7.9 5.2 0 1 0 -15.8 0zM435.0 98.0m-7.9 0a7.9 5.2 0 1 0 15.8 0a7.9 5.2 0 1 0 -15.8 0zM440.0 104.4m-7.9 0a7.9 5.2 0 1 0 15.8 0a7.9 5.2 0 1 0 -15.8 0zM444.0 104.4m-7.9 0a7.9 5.2 0 1 0 15.8 0a7.9 5.2 0 1 0 -15.8 0zM448.0 104.4m-7.9 0a7.9 5.2 0 1 0 15.8 0a7.9 5.2 0 1 0 -15.8 0zM453.0 90.2m-7.9 0a7.9 5.2 0 1 0 15.8 0a7.9 5.2 0 1 0 -15.8 0zM456.5 94.6m-7.9 0a7.9 5.2 0 1 0 15.8 0a7.9 5.2 0 1 0 -15.8 0zM460.0 103.1m-7.9 0a7.9 5.2 0 1 0 15.8 0a7.9 5.2 0 1 0 -15.8 0zM464.0 96.4m-7.9 0a7.9 5.2 0 1 0 15.8 0a7.9 5.2 0 1 0 -15.8 0zM468.0 90.2m-7.9 0a7.9 5.2 0 1 0 15.8 0a7.9 5.2 0 1 0 -15.8 0zM471.0 93.4m-7.9 0a7.9 5.2 0 1 0 15.8 0a7.9 5.2 0 1 0 -15.8 0zM474.0 100.6m-7.9 0a7.9 5.2 0 1 0 15.8 0a7.9 5.2 0 1 0 -15.8 0zM478.0 101.8m-7.9 0a7.9 5.2 0 1 0 15.8 0a7.9 5.2 0 1 0 -15.8 0zM481.7 237.8m-7.9 0a7.9 5.2 0 1 0 15.8 0a7.9 5.2 0 1 0 -15.8 0zM485.0 110.8m-7.9 0a7.9 5.2 0 1 0 15.8 0a7.9 5.2 0 1 0 -15.8 0zM488.0 118.6m-7.9 0a7.9 5.2 0 1 0 15.8 0a7.9 5.2 0 1 0 -15.8 0zM491.0 126.3m-7.9 0a7.9 5.2 0 1 0 15.8 0a7.9 5.2 0 1 0 -15.8 0zM494.0 116.0m-7.9 0a7.9 5.2 0 1 0 15.8 0a7.9 5.2 0 1 0 -15.8 0zM497.0 112.4m-7.9 0a7.9 5.2 0 1 0 15.8 0a7.9 5.2 0 1 0 -15.8 0zM500.0 112.2m-7.9 0a7.9 5.2 0 1 0 15.8 0a7.9 5.2 0 1 0 -15.8 0zM503.0 110.8m-7.9 0a7.9 5.2 0 1 0 15.8 0a7.9 5.2 0 1 0 -15.8 0zM506.0 98.0m-7.9 0a7.9 5.2 0 1 0 15.8 0a7.9 5.2 0 1 0 -15.8 0zM509.5 96.9m-7.9 0a7.9 5.2 0 1 0 15.8 0a7.9 5.2 0 1 0 -15.8 0zM513.0 92.8m-7.9 0a7.9 5.2 0 1 0 15.8 0a7.9 5.2 0 1 0 -15.8 0zM516.3 90.7m-7.9 0a7.9 5.2 0 1 0 15.8 0a7.9 5.2 0 1 0 -15.8 0zM519.7 90.7m-7.9 0a7.9 5.2 0 1 0 15.8 0a7.9 5.2 0 1 0 -15.8 0zM523.0 91.5m-7.9 0a7.9 5.2 0 1 0 15.8 0a7.9 5.2 0 1 0 -15.8 0zM526.5 92.8m-7.9 0a7.9 5.2 0 1 0 15.8 0a7.9 5.2 0 1 0 -15.8 0zM530.0 92.8m-7.9 0a7.9 5.2 0 1 0 15.8 0a7.9 5.2 0 1 0 -15.8 0zM534.0 97.5m-7.9 0a7.9 5.2 0 1 0 15.8 0a7.9 5.2 0 1 0 -15.8 0zM538.0 98.0m-7.9 0a7.9 5.2 0 1 0 15.8 0a7.9 5.2 0 1 0 -15.8 0zM543.0 108.3m-7.9 0a7.9 5.2 0 1 0 15.8 0a7.9 5.2 0 1 0 -15.8 0zM547.0 116.0m-7.9 0a7.9 5.2 0 1 0 15.8 0a7.9 5.2 0 1 0 -15.8 0zM550.0 119.9m-7.9 0a7.9 5.2 0 1 0 15.8 0a7.9 5.2 0 1 0 -15.8 0zM553.0 95.4m-7.9 0a7.9 5.2 0 1 0 15.8 0a7.9 5.2 0 1 0 -15.8 0zM556.5 95.1m-7.9 0a7.9 5.2 0 1 0 15.8 0a7.9 5.2 0 1 0 -15.8 0zM560.0 94.1m-7.9 0a7.9 5.2 0 1 0 15.8 0a7.9 5.2 0 1 0 -15.8 0zM563.3 91.5m-7.9 0a7.9 5.2 0 1 0 15.8 0a7.9 5.2 0 1 0 -15.8 0zM566.7 92.0m-7.9 0a7.9 5.2 0 1 0 15.8 0a7.9 5.2 0 1 0 -15.8 0zM570.0 87.7m-7.9 0a7.9 5.2 0 1 0 15.8 0a7.9 5.2 0 1 0 -15.8 0zM573.2 85.3m-7.9 0a7.9 5.2 0 1 0 15.8 0a7.9 5.2 0 1 0 -15.8 0zM576.5 88.7m-7.9 0a7.9 5.2 0 1 0 15.8 0a7.9 5.2 0 1 0 -15.8 0zM579.8 85.7m-7.9 0a7.9 5.2 0 1 0 15.8 0a7.9 5.2 0 1 0 -15.8 0zM583.0 86.4m-7.9 0a7.9 5.2 0 1 0 15.8 0a7.9 5.2 0 1 0 -15.8 0zM586.3 85.2m-7.9 0a7.9 5.2 0 1 0 15.8 0a7.9 5.2 0 1 0 -15.8 0zM589.7 85.5m-7.9 0a7.9 5.2 0 1 0 15.8 0a7.9 5.2 0 1 0 -15.8 0zM593.0 87.7m-7.9 0a7.9 5.2 0 1 0 15.8 0a7.9 5.2 0 1 0 -15.8 0zM596.5 86.2m-7.9 0a7.9 5.2 0 1 0 15.8 0a7.9 5.2 0 1 0 -15.8 0zM600.0 86.4m-7.9 0a7.9 5.2 0 1 0 15.8 0a7.9 5.2 0 1 0 -15.8 0zM602.0 105.7m-7.9 0a7.9 5.2 0 1 0 15.8 0a7.9 5.2 0 1 0 -15.8 0zM607.5 123.7m-7.9 0a7.9 5.2 0 1 0 15.8 0a7.9 5.2 0 1 0 -15.8 0zM612.0 105.7m-7.9 0a7.9 5.2 0 1 0 15.8 0a7.9 5.2 0 1 0 -15.8 0zM615.0 90.2m-7.9 0a7.9 5.2 0 1 0 15.8 0a7.9 5.2 0 1 0 -15.8 0zM619.0 89.8m-7.9 0a7.9 5.2 0 1 0 15.8 0a7.9 5.2 0 1 0 -15.8 0zM623.0 86.4m-7.9 0a7.9 5.2 0 1 0 15.8 0a7.9 5.2 0 1 0 -15.8 0zM628.0 87.7m-7.9 0a7.9 5.2 0 1 0 15.8 0a7.9 5.2 0 1 0 -15.8 0zM632.0 88.8m-7.9 0a7.9 5.2 0 1 0 15.8 0a7.9 5.2 0 1 0 -15.8 0zM636.0 92.8m-7.9 0a7.9 5.2 0 1 0 15.8 0a7.9 5.2 0 1 0 -15.8 0zM639.5 94.5m-7.9 0a7.9 5.2 0 1 0 15.8 0a7.9 5.2 0 1 0 -15.8 0zM643.0 95.4m-7.9 0a7.9 5.2 0 1 0 15.8 0a7.9 5.2 0 1 0 -15.8 0zM647.0 93.5m-7.9 0a7.9 5.2 0 1 0 15.8 0a7.9 5.2 0 1 0 -15.8 0zM651.0 90.2m-7.9 0a7.9 5.2 0 1 0 15.8 0a7.9 5.2 0 1 0 -15.8 0zM654.5 89.0m-7.9 0a7.9 5.2 0 1 0 15.8 0a7.9 5.2 0 1 0 -15.8 0zM658.0 89.0m-7.9 0a7.9 5.2 0 1 0 15.8 0a7.9 5.2 0 1 0 -15.8 0zM663.0 100.6m-7.9 0a7.9 5.2 0 1 0 15.8 0a7.9 5.2 0 1 0 -15.8 0zM668.0 108.3m-7.9 0a7.9 5.2 0 1 0 15.8 0a7.9 5.2 0 1 0 -15.8 0zM673.0 114.7m-7.9 0a7.9 5.2 0 1 0 15.8 0a7.9 5.2 0 1 0 -15.8 0zM675.5 83.8m-7.9 0a7.9 5.2 0 1 0 15.8 0a7.9 5.2 0 1 0 -15.8 0zM679.2 87.3m-7.9 0a7.9 5.2 0 1 0 15.8 0a7.9 5.2 0 1 0 -15.8 0zM683.0 90.2m-7.9 0a7.9 5.2 0 1 0 15.8 0a7.9 5.2 0 1 0 -15.8 0zM688.0 87.7m-7.9 0a7.9 5.2 0 1 0 15.8 0a7.9 5.2 0 1 0 -15.8 0zM691.3 86.1m-7.9 0a7.9 5.2 0 1 0 15.8 0a7.9 5.2 0 1 0 -15.8 0zM694.7 86.5m-7.9 0a7.9 5.2 0 1 0 15.8 0a7.9 5.2 0 1 0 -15.8 0zM698.0 89.0m-7.9 0a7.9 5.2 0 1 0 15.8 0a7.9 5.2 0 1 0 -15.8 0zM703.0 90.2m-7.9 0a7.9 5.2 0 1 0 15.8 0a7.9 5.2 0 1 0 -15.8 0zM706.5 90.2m-7.9 0a7.9 5.2 0 1 0 15.8 0a7.9 5.2 0 1 0 -15.8 0zM710.0 92.8m-7.9 0a7.9 5.2 0 1 0 15.8 0a7.9 5.2 0 1 0 -15.8 0zM714.0 94.9m-7.9 0a7.9 5.2 0 1 0 15.8 0a7.9 5.2 0 1 0 -15.8 0zM718.0 95.4m-7.9 0a7.9 5.2 0 1 0 15.8 0a7.9 5.2 0 1 0 -15.8 0zM721.0 97.6m-7.9 0a7.9 5.2 0 1 0 15.8 0a7.9 5.2 0 1 0 -15.8 0zM724.0 100.6m-7.9 0a7.9 5.2 0 1 0 15.8 0a7.9 5.2 0 1 0 -15.8 0zM727.2 106.1m-7.9 0a7.9 5.2 0 1 0 15.8 0a7.9 5.2 0 1 0 -15.8 0zM730.5 113.4m-7.9 0a7.9 5.2 0 1 0 15.8 0a7.9 5.2 0 1 0 -15.8 0zM734.0 92.8m-7.9 0a7.9 5.2 0 1 0 15.8 0a7.9 5.2 0 1 0 -15.8 0zM737.0 91.3m-7.9 0a7.9 5.2 0 1 0 15.8 0a7.9 5.2 0 1 0 -15.8 0zM740.0 89.0m-7.9 0a7.9 5.2 0 1 0 15.8 0a7.9 5.2 0 1 0 -15.8 0zM743.0 92.0m-7.9 0a7.9 5.2 0 1 0 15.8 0a7.9 5.2 0 1 0 -15.8 0zM746.0 95.4m-7.9 0a7.9 5.2 0 1 0 15.8 0a7.9 5.2 0 1 0 -15.8 0zM751.0 100.6m-7.9 0a7.9 5.2 0 1 0 15.8 0a7.9 5.2 0 1 0 -15.8 0zM754.5 95.1m-7.9 0a7.9 5.2 0 1 0 15.8 0a7.9 5.2 0 1 0 -15.8 0zM758.0 91.5m-7.9 0a7.9 5.2 0 1 0 15.8 0a7.9 5.2 0 1 0 -15.8 0zM761.3 93.3m-7.9 0a7.9 5.2 0 1 0 15.8 0a7.9 5.2 0 1 0 -15.8 0zM764.7 93.3m-7.9 0a7.9 5.2 0 1 0 15.8 0a7.9 5.2 0 1 0 -15.8 0zM768.0 92.8m-7.9 0a7.9 5.2 0 1 0 15.8 0a7.9 5.2 0 1 0 -15.8 0zM771.0 92.9m-7.9 0a7.9 5.2 0 1 0 15.8 0a7.9 5.2 0 1 0 -15.8 0zM774.0 95.4m-7.9 0a7.9 5.2 0 1 0 15.8 0a7.9 5.2 0 1 0 -15.8 0zM777.0 98.3m-7.9 0a7.9 5.2 0 1 0 15.8 0a7.9 5.2 0 1 0 -15.8 0zM780.0 100.6m-7.9 0a7.9 5.2 0 1 0 15.8 0a7.9 5.2 0 1 0 -15.8 0zM785.0 105.7m-7.9 0a7.9 5.2 0 1 0 15.8 0a7.9 5.2 0 1 0 -15.8 0zM789.0 226.0m-7.9 0a7.9 5.2 0 1 0 15.8 0a7.9 5.2 0 1 0 -15.8 0zM793.0 91.5m-7.9 0a7.9 5.2 0 1 0 15.8 0a7.9 5.2 0 1 0 -15.8 0zM797.0 131.4m-7.9 0a7.9 5.2 0 1 0 15.8 0a7.9 5.2 0 1 0 -15.8 0zM799.0 118.6m-7.9 0a7.9 5.2 0 1 0 15.8 0a7.9 5.2 0 1 0 -15.8 0zM814.0 101.6m-7.9 0a7.9 5.2 0 1 0 15.8 0a7.9 5.2 0 1 0 -15.8 0zM817.0 222.3m-7.9 0a7.9 5.2 0 1 0 15.8 0a7.9 5.2 0 1 0 -15.8 0zM819.0 74.0m-7.9 0a7.9 5.2 0 1 0 15.8 0a7.9 5.2 0 1 0 -15.8 0zM823.0 90.2m-7.9 0a7.9 5.2 0 1 0 15.8 0a7.9 5.2 0 1 0 -15.8 0zM826.5 89.1m-7.9 0a7.9 5.2 0 1 0 15.8 0a7.9 5.2 0 1 0 -15.8 0zM830.0 87.7m-7.9 0a7.9 5.2 0 1 0 15.8 0a7.9 5.2 0 1 0 -15.8 0zM834.0 90.7m-7.9 0a7.9 5.2 0 1 0 15.8 0a7.9 5.2 0 1 0 -15.8 0zM838.0 90.2m-7.9 0a7.9 5.2 0 1 0 15.8 0a7.9 5.2 0 1 0 -15.8 0zM841.5 90.7m-7.9 0a7.9 5.2 0 1 0 15.8 0a7.9 5.2 0 1 0 -15.8 0zM845.0 89.0m-7.9 0a7.9 5.2 0 1 0 15.8 0a7.9 5.2 0 1 0 -15.8 0zM848.0 93.8m-7.9 0a7.9 5.2 0 1 0 15.8 0a7.9 5.2 0 1 0 -15.8 0zM851.0 100.6m-7.9 0a7.9 5.2 0 1 0 15.8 0a7.9 5.2 0 1 0 -15.8 0zM856.0 108.3m-7.9 0a7.9 5.2 0 1 0 15.8 0a7.9 5.2 0 1 0 -15.8 0zM859.0 81.5m-7.9 0a7.9 5.2 0 1 0 15.8 0a7.9 5.2 0 1 0 -15.8 0zM862.5 86.8m-7.9 0a7.9 5.2 0 1 0 15.8 0a7.9 5.2 0 1 0 -15.8 0zM866.0 87.7m-7.9 0a7.9 5.2 0 1 0 15.8 0a7.9 5.2 0 1 0 -15.8 0zM869.5 85.9m-7.9 0a7.9 5.2 0 1 0 15.8 0a7.9 5.2 0 1 0 -15.8 0zM873.0 87.7m-7.9 0a7.9 5.2 0 1 0 15.8 0a7.9 5.2 0 1 0 -15.8 0zM876.3 88.2m-7.9 0a7.9 5.2 0 1 0 15.8 0a7.9 5.2 0 1 0 -15.8 0zM879.7 90.6m-7.9 0a7.9 5.2 0 1 0 15.8 0a7.9 5.2 0 1 0 -15.8 0zM883.0 90.2m-7.9 0a7.9 5.2 0 1 0 15.8 0a7.9 5.2 0 1 0 -15.8 0zM886.3 89.1m-7.9 0a7.9 5.2 0 1 0 15.8 0a7.9 5.2 0 1 0 -15.8 0zM889.7 91.1m-7.9 0a7.9 5.2 0 1 0 15.8 0a7.9 5.2 0 1 0 -15.8 0zM893.0 91.5m-7.9 0a7.9 5.2 0 1 0 15.8 0a7.9 5.2 0 1 0 -15.8 0zM896.3 88.6m-7.9 0a7.9 5.2 0 1 0 15.8 0a7.9 5.2 0 1 0 -15.8 0zM899.7 90.6m-7.9 0a7.9 5.2 0 1 0 15.8 0a7.9 5.2 0 1 0 -15.8 0zM903.0 89.0m-7.9 0a7.9 5.2 0 1 0 15.8 0a7.9 5.2 0 1 0 -15.8 0zM908.0 98.0m-7.9 0a7.9 5.2 0 1 0 15.8 0a7.9 5.2 0 1 0 -15.8 0zM913.0 105.7m-7.9 0a7.9 5.2 0 1 0 15.8 0a7.9 5.2 0 1 0 -15.8 0zM915.5 86.4m-7.9 0a7.9 5.2 0 1 0 15.8 0a7.9 5.2 0 1 0 -15.8 0zM919.2 88.9m-7.9 0a7.9 5.2 0 1 0 15.8 0a7.9 5.2 0 1 0 -15.8 0zM923.0 89.0m-7.9 0a7.9 5.2 0 1 0 15.8 0a7.9 5.2 0 1 0 -15.8 0zM926.3 89.7m-7.9 0a7.9 5.2 0 1 0 15.8 0a7.9 5.2 0 1 0 -15.8 0zM929.7 91.5m-7.9 0a7.9 5.2 0 1 0 15.8 0a7.9 5.2 0 1 0 -15.8 0zM933.0 90.2m-7.9 0a7.9 5.2 0 1 0 15.8 0a7.9 5.2 0 1 0 -15.8 0zM936.0 89.4m-7.9 0a7.9 5.2 0 1 0 15.8 0a7.9 5.2 0 1 0 -15.8 0zM939.0 90.2m-7.9 0a7.9 5.2 0 1 0 15.8 0a7.9 5.2 0 1 0 -15.8 0z" fill="#5b9bd5"/>
</svg>
<svg class="abs" style="left:150px;top:2080px" width="1098.5" height="357.5" viewBox="0 0 1098.5 357.5">
<rect x="0.5" y="0.5" width="1097.5" height="356.5" fill="#dde9f6" stroke="#d3dde8" stroke-width="1"/>
<text transform="translate(547,32.5) scale(1.67,1)" text-anchor="middle" font-size="22.5" font-weight="bold" letter-spacing="1" fill="#8e4a1e">隔夜加权趋势图</text>
<line x1="117.5" y1="63" x2="1056.5" y2="63" stroke="#d5d9de" stroke-width="1"/>
<text transform="translate(96,68.148) scale(1.85,1)" text-anchor="end" font-size="14.3" fill="#595959" stroke="#595959" stroke-width="0.3">4.50%</text>
<line x1="117.5" y1="90.5" x2="1056.5" y2="90.5" stroke="#d5d9de" stroke-width="1"/>
<text transform="translate(96,95.648) scale(1.85,1)" text-anchor="end" font-size="14.3" fill="#595959" stroke="#595959" stroke-width="0.3">4.00%</text>
<line x1="117.5" y1="118" x2="1056.5" y2="118" stroke="#d5d9de" stroke-width="1"/>
<text transform="translate(96,123.148) scale(1.85,1)" text-anchor="end" font-size="14.3" fill="#595959" stroke="#595959" stroke-width="0.3">3.50%</text>
<line x1="117.5" y1="145.5" x2="1056.5" y2="145.5" stroke="#d5d9de" stroke-width="1"/>
<text transform="translate(96,150.648) scale(1.85,1)" text-anchor="end" font-size="14.3" fill="#595959" stroke="#595959" stroke-width="0.3">3.00%</text>
<line x1="117.5" y1="173" x2="1056.5" y2="173" stroke="#d5d9de" stroke-width="1"/>
<text transform="translate(96,178.148) scale(1.85,1)" text-anchor="end" font-size="14.3" fill="#595959" stroke="#595959" stroke-width="0.3">2.50%</text>
<line x1="117.5" y1="200.5" x2="1056.5" y2="200.5" stroke="#d5d9de" stroke-width="1"/>
<text transform="translate(96,205.648) scale(1.85,1)" text-anchor="end" font-size="14.3" fill="#595959" stroke="#595959" stroke-width="0.3">2.00%</text>
<line x1="117.5" y1="228" x2="1056.5" y2="228" stroke="#d5d9de" stroke-width="1"/>
<text transform="translate(96,233.148) scale(1.85,1)" text-anchor="end" font-size="14.3" fill="#595959" stroke="#595959" stroke-width="0.3">1.50%</text>
<line x1="117.5" y1="255.5" x2="1056.5" y2="255.5" stroke="#d5d9de" stroke-width="1"/>
<text transform="translate(96,260.648) scale(1.85,1)" text-anchor="end" font-size="14.3" fill="#595959" stroke="#595959" stroke-width="0.3">1.00%</text>
<line x1="117.5" y1="283" x2="1056.5" y2="283" stroke="#d5d9de" stroke-width="1"/>
<text transform="translate(96,288.148) scale(1.85,1)" text-anchor="end" font-size="14.3" fill="#595959" stroke="#595959" stroke-width="0.3">0.50%</text>
<line x1="117.5" y1="310.5" x2="1056.5" y2="310.5" stroke="#d5d9de" stroke-width="1"/>
<text transform="translate(96,315.648) scale(1.85,1)" text-anchor="end" font-size="14.3" fill="#595959" stroke="#595959" stroke-width="0.3">0.00%</text>
<line x1="117.5" y1="63" x2="117.5" y2="310.5" stroke="#d4d8dd" stroke-width="1.1"/>
<text transform="translate(115.5,340.328) scale(2,1)" text-anchor="middle" font-size="14.8" fill="#595959" stroke="#595959" stroke-width="0.3">11/4</text>
<line x1="221.833" y1="63" x2="221.833" y2="310.5" stroke="#d4d8dd" stroke-width="1.1"/>
<text transform="translate(219.833,340.328) scale(2,1)" text-anchor="middle" font-size="14.8" fill="#595959" stroke="#595959" stroke-width="0.3">12/24</text>
<line x1="326.167" y1="63" x2="326.167" y2="310.5" stroke="#d4d8dd" stroke-width="1.1"/>
<text transform="translate(324.167,340.328) scale(2,1)" text-anchor="middle" font-size="14.8" fill="#595959" stroke="#595959" stroke-width="0.3">2/12</text>
<line x1="430.5" y1="63" x2="430.5" y2="310.5" stroke="#d4d8dd" stroke-width="1.1"/>
<text transform="translate(428.5,340.328) scale(2,1)" text-anchor="middle" font-size="14.8" fill="#595959" stroke="#595959" stroke-width="0.3">4/3</text>
<line x1="534.833" y1="63" x2="534.833" y2="310.5" stroke="#d4d8dd" stroke-width="1.1"/>
<text transform="translate(532.833,340.328) scale(2,1)" text-anchor="middle" font-size="14.8" fill="#595959" stroke="#595959" stroke-width="0.3">5/23</text>
<line x1="639.167" y1="63" x2="639.167" y2="310.5" stroke="#d4d8dd" stroke-width="1.1"/>
<text transform="translate(637.167,340.328) scale(2,1)" text-anchor="middle" font-size="14.8" fill="#595959" stroke="#595959" stroke-width="0.3">7/12</text>
<line x1="743.5" y1="63" x2="743.5" y2="310.5" stroke="#d4d8dd" stroke-width="1.1"/>
<text transform="translate(741.5,340.328) scale(2,1)" text-anchor="middle" font-size="14.8" fill="#595959" stroke="#595959" stroke-width="0.3">8/31</text>
<line x1="847.833" y1="63" x2="847.833" y2="310.5" stroke="#d4d8dd" stroke-width="1.1"/>
<text transform="translate(845.833,340.328) scale(2,1)" text-anchor="middle" font-size="14.8" fill="#595959" stroke="#595959" stroke-width="0.3">10/20</text>
<line x1="952.167" y1="63" x2="952.167" y2="310.5" stroke="#d4d8dd" stroke-width="1.1"/>
<text transform="translate(950.167,340.328) scale(2,1)" text-anchor="middle" font-size="14.8" fill="#595959" stroke="#595959" stroke-width="0.3">12/9</text>
<line x1="1056.5" y1="63" x2="1056.5" y2="310.5" stroke="#d4d8dd" stroke-width="1.1"/>
<text transform="translate(1054.5,340.328) scale(2,1)" text-anchor="middle" font-size="14.8" fill="#595959" stroke="#595959" stroke-width="0.3">1/28</text>
<line x1="117.5" y1="310.5" x2="1056.5" y2="310.5" stroke="#c4c8cc" stroke-width="1.3"/>
<polyline fill="none" stroke="#5b9bd5" stroke-width="5.6" stroke-linejoin="round" stroke-linecap="round" points="240.0,213.7 244.0,215.9 248.8,226.3 252.0,222.5 256.0,215.3 262.5,198.9 264.5,171.4 267.5,160.9 268.8,93.8 271.0,163.7 274.0,175.8 276.5,186.2 280.0,200.5 283.8,175.2 285.0,208.8 290.0,218.7 295.0,217.0 310.0,204.9 315.0,209.8 322.0,208.8 327.0,206.0 332.0,200.5 337.5,185.1 345.0,193.9 350.0,197.8 357.0,200.5 362.0,206.0 366.0,213.7 375.0,213.2 385.0,212.6 397.5,204.3 405.0,212.6 420.0,212.6 423.0,155.9 426.0,205.4 430.0,218.7 440.0,211.5 445.0,219.2 450.0,218.1 460.0,217.0 475.0,222.5 486.0,208.2 500.0,218.1 510.0,230.2 520.0,221.4 530.0,223.6 542.0,228.0 555.0,229.7 570.0,232.4 590.0,231.3 605.0,230.2 609.0,230.2 613.0,184.0 615.5,230.2 617.0,233.5 630.0,234.6 645.0,225.2 655.0,233.5 663.0,217.0 670.0,230.2 680.0,224.2 687.0,235.1 702.0,235.1 715.0,225.2 719.0,225.2 732.0,235.1 752.0,234.6 765.0,229.7 779.0,224.2 790.0,228.0 800.0,235.1 805.0,228.0 810.0,226.9 820.0,233.5 827.0,236.2 850.0,234.6 862.0,228.0 875.0,234.6 890.0,228.0 906.0,224.2 915.0,232.4 936.0,235.1 950.0,234.6"/>
<path d="M240.0 213.7m-7.9 0a7.9 5.2 0 1 0 15.8 0a7.9 5.2 0 1 0 -15.8 0zM244.0 215.9m-7.9 0a7.9 5.2 0 1 0 15.8 0a7.9 5.2 0 1 0 -15.8 0zM248.8 226.3m-7.9 0a7.9 5.2 0 1 0 15.8 0a7.9 5.2 0 1 0 -15.8 0zM252.0 222.5m-7.9 0a7.9 5.2 0 1 0 15.8 0a7.9 5.2 0 1 0 -15.8 0zM256.0 215.3m-7.9 0a7.9 5.2 0 1 0 15.8 0a7.9 5.2 0 1 0 -15.8 0zM259.2 206.6m-7.9 0a7.9 5.2 0 1 0 15.8 0a7.9 5.2 0 1 0 -15.8 0zM262.5 198.9m-7.9 0a7.9 5.2 0 1 0 15.8 0a7.9 5.2 0 1 0 -15.8 0zM264.5 171.4m-7.9 0a7.9 5.2 0 1 0 15.8 0a7.9 5.2 0 1 0 -15.8 0zM267.5 160.9m-7.9 0a7.9 5.2 0 1 0 15.8 0a7.9 5.2 0 1 0 -15.8 0zM268.8 93.8m-7.9 0a7.9 5.2 0 1 0 15.8 0a7.9 5.2 0 1 0 -15.8 0zM271.0 163.7m-7.9 0a7.9 5.2 0 1 0 15.8 0a7.9 5.2 0 1 0 -15.8 0zM274.0 175.8m-7.9 0a7.9 5.2 0 1 0 15.8 0a7.9 5.2 0 1 0 -15.8 0zM276.5 186.2m-7.9 0a7.9 5.2 0 1 0 15.8 0a7.9 5.2 0 1 0 -15.8 0zM280.0 200.5m-7.9 0a7.9 5.2 0 1 0 15.8 0a7.9 5.2 0 1 0 -15.8 0zM283.8 175.2m-7.9 0a7.9 5.2 0 1 0 15.8 0a7.9 5.2 0 1 0 -15.8 0zM285.0 208.8m-7.9 0a7.9 5.2 0 1 0 15.8 0a7.9 5.2 0 1 0 -15.8 0zM290.0 218.7m-7.9 0a7.9 5.2 0 1 0 15.8 0a7.9 5.2 0 1 0 -15.8 0zM295.0 217.0m-7.9 0a7.9 5.2 0 1 0 15.8 0a7.9 5.2 0 1 0 -15.8 0zM310.0 204.9m-7.9 0a7.9 5.2 0 1 0 15.8 0a7.9 5.2 0 1 0 -15.8 0zM315.0 209.8m-7.9 0a7.9 5.2 0 1 0 15.8 0a7.9 5.2 0 1 0 -15.8 0zM318.5 208.3m-7.9 0a7.9 5.2 0 1 0 15.8 0a7.9 5.2 0 1 0 -15.8 0zM322.0 208.8m-7.9 0a7.9 5.2 0 1 0 15.8 0a7.9 5.2 0 1 0 -15.8 0zM327.0 206.0m-7.9 0a7.9 5.2 0 1 0 15.8 0a7.9 5.2 0 1 0 -15.8 0zM332.0 200.5m-7.9 0a7.9 5.2 0 1 0 15.8 0a7.9 5.2 0 1 0 -15.8 0zM337.5 185.1m-7.9 0a7.9 5.2 0 1 0 15.8 0a7.9 5.2 0 1 0 -15.8 0zM341.2 190.0m-7.9 0a7.9 5.2 0 1 0 15.8 0a7.9 5.2 0 1 0 -15.8 0zM345.0 193.9m-7.9 0a7.9 5.2 0 1 0 15.8 0a7.9 5.2 0 1 0 -15.8 0zM350.0 197.8m-7.9 0a7.9 5.2 0 1 0 15.8 0a7.9 5.2 0 1 0 -15.8 0zM353.5 197.8m-7.9 0a7.9 5.2 0 1 0 15.8 0a7.9 5.2 0 1 0 -15.8 0zM357.0 200.5m-7.9 0a7.9 5.2 0 1 0 15.8 0a7.9 5.2 0 1 0 -15.8 0zM362.0 206.0m-7.9 0a7.9 5.2 0 1 0 15.8 0a7.9 5.2 0 1 0 -15.8 0zM366.0 213.7m-7.9 0a7.9 5.2 0 1 0 15.8 0a7.9 5.2 0 1 0 -15.8 0zM369.0 213.6m-7.9 0a7.9 5.2 0 1 0 15.8 0a7.9 5.2 0 1 0 -15.8 0zM372.0 212.9m-7.9 0a7.9 5.2 0 1 0 15.8 0a7.9 5.2 0 1 0 -15.8 0zM375.0 213.2m-7.9 0a7.9 5.2 0 1 0 15.8 0a7.9 5.2 0 1 0 -15.8 0zM378.3 211.6m-7.9 0a7.9 5.2 0 1 0 15.8 0a7.9 5.2 0 1 0 -15.8 0zM381.7 212.8m-7.9 0a7.9 5.2 0 1 0 15.8 0a7.9 5.2 0 1 0 -15.8 0zM385.0 212.6m-7.9 0a7.9 5.2 0 1 0 15.8 0a7.9 5.2 0 1 0 -15.8 0zM388.1 209.1m-7.9 0a7.9 5.2 0 1 0 15.8 0a7.9 5.2 0 1 0 -15.8 0zM391.2 208.3m-7.9 0a7.9 5.2 0 1 0 15.8 0a7.9 5.2 0 1 0 -15.8 0zM394.4 205.1m-7.9 0a7.9 5.2 0 1 0 15.8 0a7.9 5.2 0 1 0 -15.8 0zM397.5 204.3m-7.9 0a7.9 5.2 0 1 0 15.8 0a7.9 5.2 0 1 0 -15.8 0zM401.2 207.2m-7.9 0a7.9 5.2 0 1 0 15.8 0a7.9 5.2 0 1 0 -15.8 0zM405.0 212.6m-7.9 0a7.9 5.2 0 1 0 15.8 0a7.9 5.2 0 1 0 -15.8 0zM408.0 212.4m-7.9 0a7.9 5.2 0 1 0 15.8 0a7.9 5.2 0 1 0 -15.8 0zM411.0 213.6m-7.9 0a7.9 5.2 0 1 0 15.8 0a7.9 5.2 0 1 0 -15.8 0zM414.0 211.5m-7.9 0a7.9 5.2 0 1 0 15.8 0a7.9 5.2 0 1 0 -15.8 0zM417.0 211.8m-7.9 0a7.9 5.2 0 1 0 15.8 0a7.9 5.2 0 1 0 -15.8 0zM420.0 212.6m-7.9 0a7.9 5.2 0 1 0 15.8 0a7.9 5.2 0 1 0 -15.8 0zM423.0 155.9m-7.9 0a7.9 5.2 0 1 0 15.8 0a7.9 5.2 0 1 0 -15.8 0zM426.0 205.4m-7.9 0a7.9 5.2 0 1 0 15.8 0a7.9 5.2 0 1 0 -15.8 0zM430.0 218.7m-7.9 0a7.9 5.2 0 1 0 15.8 0a7.9 5.2 0 1 0 -15.8 0zM433.3 216.6m-7.9 0a7.9 5.2 0 1 0 15.8 0a7.9 5.2 0 1 0 -15.8 0zM436.7 215.2m-7.9 0a7.9 5.2 0 1 0 15.8 0a7.9 5.2 0 1 0 -15.8 0zM440.0 211.5m-7.9 0a7.9 5.2 0 1 0 15.8 0a7.9 5.2 0 1 0 -15.8 0zM445.0 219.2m-7.9 0a7.9 5.2 0 1 0 15.8 0a7.9 5.2 0 1 0 -15.8 0zM450.0 218.1m-7.9 0a7.9 5.2 0 1 0 15.8 0a7.9 5.2 0 1 0 -15.8 0zM453.3 218.0m-7.9 0a7.9 5.2 0 1 0 15.8 0a7.9 5.2 0 1 0 -15.8 0zM456.7 217.1m-7.9 0a7.9 5.2 0 1 0 15.8 0a7.9 5.2 0 1 0 -15.8 0zM460.0 217.0m-7.9 0a7.9 5.2 0 1 0 15.8 0a7.9 5.2 0 1 0 -15.8 0zM463.0 219.5m-7.9 0a7.9 5.2 0 1 0 15.8 0a7.9 5.2 0 1 0 -15.8 0zM466.0 217.8m-7.9 0a7.9 5.2 0 1 0 15.8 0a7.9 5.2 0 1 0 -15.8 0zM469.0 221.4m-7.9 0a7.9 5.2 0 1 0 15.8 0a7.9 5.2 0 1 0 -15.8 0zM472.0 220.8m-7.9 0a7.9 5.2 0 1 0 15.8 0a7.9 5.2 0 1 0 -15.8 0zM475.0 222.5m-7.9 0a7.9 5.2 0 1 0 15.8 0a7.9 5.2 0 1 0 -15.8 0zM478.7 216.7m-7.9 0a7.9 5.2 0 1 0 15.8 0a7.9 5.2 0 1 0 -15.8 0zM482.3 211.8m-7.9 0a7.9 5.2 0 1 0 15.8 0a7.9 5.2 0 1 0 -15.8 0zM486.0 208.2m-7.9 0a7.9 5.2 0 1 0 15.8 0a7.9 5.2 0 1 0 -15.8 0zM489.5 210.1m-7.9 0a7.9 5.2 0 1 0 15.8 0a7.9 5.2 0 1 0 -15.8 0zM493.0 214.1m-7.9 0a7.9 5.2 0 1 0 15.8 0a7.9 5.2 0 1 0 -15.8 0zM496.5 214.7m-7.9 0a7.9 5.2 0 1 0 15.8 0a7.9 5.2 0 1 0 -15.8 0zM500.0 218.1m-7.9 0a7.9 5.2 0 1 0 15.8 0a7.9 5.2 0 1 0 -15.8 0zM503.3 222.4m-7.9 0a7.9 5.2 0 1 0 15.8 0a7.9 5.2 0 1 0 -15.8 0zM506.7 226.6m-7.9 0a7.9 5.2 0 1 0 15.8 0a7.9 5.2 0 1 0 -15.8 0zM510.0 230.2m-7.9 0a7.9 5.2 0 1 0 15.8 0a7.9 5.2 0 1 0 -15.8 0zM513.3 226.9m-7.9 0a7.9 5.2 0 1 0 15.8 0a7.9 5.2 0 1 0 -15.8 0zM516.7 224.5m-7.9 0a7.9 5.2 0 1 0 15.8 0a7.9 5.2 0 1 0 -15.8 0zM520.0 221.4m-7.9 0a7.9 5.2 0 1 0 15.8 0a7.9 5.2 0 1 0 -15.8 0zM523.3 220.8m-7.9 0a7.9 5.2 0 1 0 15.8 0a7.9 5.2 0 1 0 -15.8 0zM526.7 221.5m-7.9 0a7.9 5.2 0 1 0 15.8 0a7.9 5.2 0 1 0 -15.8 0zM530.0 223.6m-7.9 0a7.9 5.2 0 1 0 15.8 0a7.9 5.2 0 1 0 -15.8 0zM533.0 223.8m-7.9 0a7.9 5.2 0 1 0 15.8 0a7.9 5.2 0 1 0 -15.8 0zM536.0 226.3m-7.9 0a7.9 5.2 0 1 0 15.8 0a7.9 5.2 0 1 0 -15.8 0zM539.0 226.7m-7.9 0a7.9 5.2 0 1 0 15.8 0a7.9 5.2 0 1 0 -15.8 0zM542.0 228.0m-7.9 0a7.9 5.2 0 1 0 15.8 0a7.9 5.2 0 1 0 -15.8 0zM545.2 227.9m-7.9 0a7.9 5.2 0 1 0 15.8 0a7.9 5.2 0 1 0 -15.8 0zM548.5 229.1m-7.9 0a7.9 5.2 0 1 0 15.8 0a7.9 5.2 0 1 0 -15.8 0zM551.8 229.1m-7.9 0a7.9 5.2 0 1 0 15.8 0a7.9 5.2 0 1 0 -15.8 0zM555.0 229.7m-7.9 0a7.9 5.2 0 1 0 15.8 0a7.9 5.2 0 1 0 -15.8 0zM558.0 229.6m-7.9 0a7.9 5.2 0 1 0 15.8 0a7.9 5.2 0 1 0 -15.8 0zM561.0 231.6m-7.9 0a7.9 5.2 0 1 0 15.8 0a7.9 5.2 0 1 0 -15.8 0zM564.0 231.9m-7.9 0a7.9 5.2 0 1 0 15.8 0a7.9 5.2 0 1 0 -15.8 0zM567.0 231.1m-7.9 0a7.9 5.2 0 1 0 15.8 0a7.9 5.2 0 1 0 -15.8 0zM570.0 232.4m-7.9 0a7.9 5.2 0 1 0 15.8 0a7.9 5.2 0 1 0 -15.8 0zM573.3 232.4m-7.9 0a7.9 5.2 0 1 0 15.8 0a7.9 5.2 0 1 0 -15.8 0zM576.7 232.1m-7.9 0a7.9 5.2 0 1 0 15.8 0a7.9 5.2 0 1 0 -15.8 0zM580.0 233.0m-7.9 0a7.9 5.2 0 1 0 15.8 0a7.9 5.2 0 1 0 -15.8 0zM583.3 232.4m-7.9 0a7.9 5.2 0 1 0 15.8 0a7.9 5.2 0 1 0 -15.8 0zM586.7 230.8m-7.9 0a7.9 5.2 0 1 0 15.8 0a7.9 5.2 0 1 0 -15.8 0zM590.0 231.3m-7.9 0a7.9 5.2 0 1 0 15.8 0a7.9 5.2 0 1 0 -15.8 0zM593.0 232.5m-7.9 0a7.9 5.2 0 1 0 15.8 0a7.9 5.2 0 1 0 -15.8 0zM596.0 229.7m-7.9 0a7.9 5.2 0 1 0 15.8 0a7.9 5.2 0 1 0 -15.8 0zM599.0 230.4m-7.9 0a7.9 5.2 0 1 0 15.8 0a7.9 5.2 0 1 0 -15.8 0zM602.0 231.2m-7.9 0a7.9 5.2 0 1 0 15.8 0a7.9 5.2 0 1 0 -15.8 0zM605.0 230.2m-7.9 0a7.9 5.2 0 1 0 15.8 0a7.9 5.2 0 1 0 -15.8 0zM609.0 230.2m-7.9 0a7.9 5.2 0 1 0 15.8 0a7.9 5.2 0 1 0 -15.8 0zM613.0 184.0m-7.9 0a7.9 5.2 0 1 0 15.8 0a7.9 5.2 0 1 0 -15.8 0zM615.5 230.2m-7.9 0a7.9 5.2 0 1 0 15.8 0a7.9 5.2 0 1 0 -15.8 0zM617.0 233.5m-7.9 0a7.9 5.2 0 1 0 15.8 0a7.9 5.2 0 1 0 -15.8 0zM620.2 232.7m-7.9 0a7.9 5.2 0 1 0 15.8 0a7.9 5.2 0 1 0 -15.8 0zM623.5 234.0m-7.9 0a7.9 5.2 0 1 0 15.8 0a7.9 5.2 0 1 0 -15.8 0zM626.8 232.9m-7.9 0a7.9 5.2 0 1 0 15.8 0a7.9 5.2 0 1 0 -15.8 0zM630.0 234.6m-7.9 0a7.9 5.2 0 1 0 15.8 0a7.9 5.2 0 1 0 -15.8 0zM633.0 233.2m-7.9 0a7.9 5.2 0 1 0 15.8 0a7.9 5.2 0 1 0 -15.8 0zM636.0 231.7m-7.9 0a7.9 5.2 0 1 0 15.8 0a7.9 5.2 0 1 0 -15.8 0zM639.0 229.2m-7.9 0a7.9 5.2 0 1 0 15.8 0a7.9 5.2 0 1 0 -15.8 0zM642.0 228.2m-7.9 0a7.9 5.2 0 1 0 15.8 0a7.9 5.2 0 1 0 -15.8 0zM645.0 225.2m-7.9 0a7.9 5.2 0 1 0 15.8 0a7.9 5.2 0 1 0 -15.8 0zM648.3 227.4m-7.9 0a7.9 5.2 0 1 0 15.8 0a7.9 5.2 0 1 0 -15.8 0zM651.7 231.3m-7.9 0a7.9 5.2 0 1 0 15.8 0a7.9 5.2 0 1 0 -15.8 0zM655.0 233.5m-7.9 0a7.9 5.2 0 1 0 15.8 0a7.9 5.2 0 1 0 -15.8 0zM659.0 225.5m-7.9 0a7.9 5.2 0 1 0 15.8 0a7.9 5.2 0 1 0 -15.8 0zM663.0 217.0m-7.9 0a7.9 5.2 0 1 0 15.8 0a7.9 5.2 0 1 0 -15.8 0zM666.5 223.8m-7.9 0a7.9 5.2 0 1 0 15.8 0a7.9 5.2 0 1 0 -15.8 0zM670.0 230.2m-7.9 0a7.9 5.2 0 1 0 15.8 0a7.9 5.2 0 1 0 -15.8 0zM673.3 228.1m-7.9 0a7.9 5.2 0 1 0 15.8 0a7.9 5.2 0 1 0 -15.8 0zM676.7 227.2m-7.9 0a7.9 5.2 0 1 0 15.8 0a7.9 5.2 0 1 0 -15.8 0zM680.0 224.2m-7.9 0a7.9 5.2 0 1 0 15.8 0a7.9 5.2 0 1 0 -15.8 0zM683.5 231.0m-7.9 0a7.9 5.2 0 1 0 15.8 0a7.9 5.2 0 1 0 -15.8 0zM687.0 235.1m-7.9 0a7.9 5.2 0 1 0 15.8 0a7.9 5.2 0 1 0 -15.8 0zM690.0 235.1m-7.9 0a7.9 5.2 0 1 0 15.8 0a7.9 5.2 0 1 0 -15.8 0zM693.0 235.6m-7.9 0a7.9 5.2 0 1 0 15.8 0a7.9 5.2 0 1 0 -15.8 0zM696.0 233.8m-7.9 0a7.9 5.2 0 1 0 15.8 0a7.9 5.2 0 1 0 -15.8 0zM699.0 235.8m-7.9 0a7.9 5.2 0 1 0 15.8 0a7.9 5.2 0 1 0 -15.8 0zM702.0 235.1m-7.9 0a7.9 5.2 0 1 0 15.8 0a7.9 5.2 0 1 0 -15.8 0zM705.2 233.1m-7.9 0a7.9 5.2 0 1 0 15.8 0a7.9 5.2 0 1 0 -15.8 0zM708.5 231.7m-7.9 0a7.9 5.2 0 1 0 15.8 0a7.9 5.2 0 1 0 -15.8 0zM711.8 228.7m-7.9 0a7.9 5.2 0 1 0 15.8 0a7.9 5.2 0 1 0 -15.8 0zM715.0 225.2m-7.9 0a7.9 5.2 0 1 0 15.8 0a7.9 5.2 0 1 0 -15.8 0zM719.0 225.2m-7.9 0a7.9 5.2 0 1 0 15.8 0a7.9 5.2 0 1 0 -15.8 0zM722.2 227.1m-7.9 0a7.9 5.2 0 1 0 15.8 0a7.9 5.2 0 1 0 -15.8 0zM725.5 229.9m-7.9 0a7.9 5.2 0 1 0 15.8 0a7.9 5.2 0 1 0 -15.8 0zM728.8 233.2m-7.9 0a7.9 5.2 0 1 0 15.8 0a7.9 5.2 0 1 0 -15.8 0zM732.0 235.1m-7.9 0a7.9 5.2 0 1 0 15.8 0a7.9 5.2 0 1 0 -15.8 0zM735.3 233.6m-7.9 0a7.9 5.2 0 1 0 15.8 0a7.9 5.2 0 1 0 -15.8 0zM738.7 234.9m-7.9 0a7.9 5.2 0 1 0 15.8 0a7.9 5.2 0 1 0 -15.8 0zM742.0 233.9m-7.9 0a7.9 5.2 0 1 0 15.8 0a7.9 5.2 0 1 0 -15.8 0zM745.3 233.6m-7.9 0a7.9 5.2 0 1 0 15.8 0a7.9 5.2 0 1 0 -15.8 0zM748.7 233.4m-7.9 0a7.9 5.2 0 1 0 15.8 0a7.9 5.2 0 1 0 -15.8 0zM752.0 234.6m-7.9 0a7.9 5.2 0 1 0 15.8 0a7.9 5.2 0 1 0 -15.8 0zM755.2 234.2m-7.9 0a7.9 5.2 0 1 0 15.8 0a7.9 5.2 0 1 0 -15.8 0zM758.5 231.0m-7.9 0a7.9 5.2 0 1 0 15.8 0a7.9 5.2 0 1 0 -15.8 0zM761.8 230.1m-7.9 0a7.9 5.2 0 1 0 15.8 0a7.9 5.2 0 1 0 -15.8 0zM765.0 229.7m-7.9 0a7.9 5.2 0 1 0 15.8 0a7.9 5.2 0 1 0 -15.8 0zM768.5 227.9m-7.9 0a7.9 5.2 0 1 0 15.8 0a7.9 5.2 0 1 0 -15.8 0zM772.0 228.0m-7.9 0a7.9 5.2 0 1 0 15.8 0a7.9 5.2 0 1 0 -15.8 0zM775.5 224.3m-7.9 0a7.9 5.2 0 1 0 15.8 0a7.9 5.2 0 1 0 -15.8 0zM779.0 224.2m-7.9 0a7.9 5.2 0 1 0 15.8 0a7.9 5.2 0 1 0 -15.8 0zM782.7 225.3m-7.9 0a7.9 5.2 0 1 0 15.8 0a7.9 5.2 0 1 0 -15.8 0zM786.3 226.9m-7.9 0a7.9 5.2 0 1 0 15.8 0a7.9 5.2 0 1 0 -15.8 0zM790.0 228.0m-7.9 0a7.9 5.2 0 1 0 15.8 0a7.9 5.2 0 1 0 -15.8 0zM793.3 231.5m-7.9 0a7.9 5.2 0 1 0 15.8 0a7.9 5.2 0 1 0 -15.8 0zM796.7 233.7m-7.9 0a7.9 5.2 0 1 0 15.8 0a7.9 5.2 0 1 0 -15.8 0zM800.0 235.1m-7.9 0a7.9 5.2 0 1 0 15.8 0a7.9 5.2 0 1 0 -15.8 0zM805.0 228.0m-7.9 0a7.9 5.2 0 1 0 15.8 0a7.9 5.2 0 1 0 -15.8 0zM810.0 226.9m-7.9 0a7.9 5.2 0 1 0 15.8 0a7.9 5.2 0 1 0 -15.8 0zM813.3 230.2m-7.9 0a7.9 5.2 0 1 0 15.8 0a7.9 5.2 0 1 0 -15.8 0zM816.7 230.6m-7.9 0a7.9 5.2 0 1 0 15.8 0a7.9 5.2 0 1 0 -15.8 0zM820.0 233.5m-7.9 0a7.9 5.2 0 1 0 15.8 0a7.9 5.2 0 1 0 -15.8 0zM823.5 234.6m-7.9 0a7.9 5.2 0 1 0 15.8 0a7.9 5.2 0 1 0 -15.8 0zM827.0 236.2m-7.9 0a7.9 5.2 0 1 0 15.8 0a7.9 5.2 0 1 0 -15.8 0zM830.3 235.6m-7.9 0a7.9 5.2 0 1 0 15.8 0a7.9 5.2 0 1 0 -15.8 0zM833.6 236.9m-7.9 0a7.9 5.2 0 1 0 15.8 0a7.9 5.2 0 1 0 -15.8 0zM836.9 236.9m-7.9 0a7.9 5.2 0 1 0 15.8 0a7.9 5.2 0 1 0 -15.8 0zM840.1 234.3m-7.9 0a7.9 5.2 0 1 0 15.8 0a7.9 5.2 0 1 0 -15.8 0zM843.4 234.1m-7.9 0a7.9 5.2 0 1 0 15.8 0a7.9 5.2 0 1 0 -15.8 0zM846.7 234.0m-7.9 0a7.9 5.2 0 1 0 15.8 0a7.9 5.2 0 1 0 -15.8 0zM850.0 234.6m-7.9 0a7.9 5.2 0 1 0 15.8 0a7.9 5.2 0 1 0 -15.8 0zM853.0 232.2m-7.9 0a7.9 5.2 0 1 0 15.8 0a7.9 5.2 0 1 0 -15.8 0zM856.0 231.3m-7.9 0a7.9 5.2 0 1 0 15.8 0a7.9 5.2 0 1 0 -15.8 0zM859.0 229.9m-7.9 0a7.9 5.2 0 1 0 15.8 0a7.9 5.2 0 1 0 -15.8 0zM862.0 228.0m-7.9 0a7.9 5.2 0 1 0 15.8 0a7.9 5.2 0 1 0 -15.8 0zM865.2 228.9m-7.9 0a7.9 5.2 0 1 0 15.8 0a7.9 5.2 0 1 0 -15.8 0zM868.5 229.8m-7.9 0a7.9 5.2 0 1 0 15.8 0a7.9 5.2 0 1 0 -15.8 0zM871.8 232.7m-7.9 0a7.9 5.2 0 1 0 15.8 0a7.9 5.2 0 1 0 -15.8 0zM875.0 234.6m-7.9 0a7.9 5.2 0 1 0 15.8 0a7.9 5.2 0 1 0 -15.8 0zM878.0 232.9m-7.9 0a7.9 5.2 0 1 0 15.8 0a7.9 5.2 0 1 0 -15.8 0zM881.0 232.2m-7.9 0a7.9 5.2 0 1 0 15.8 0a7.9 5.2 0 1 0 -15.8 0zM884.0 232.0m-7.9 0a7.9 5.2 0 1 0 15.8 0a7.9 5.2 0 1 0 -15.8 0zM887.0 229.9m-7.9 0a7.9 5.2 0 1 0 15.8 0a7.9 5.2 0 1 0 -15.8 0zM890.0 228.0m-7.9 0a7.9 5.2 0 1 0 15.8 0a7.9 5.2 0 1 0 -15.8 0zM893.2 227.3m-7.9 0a7.9 5.2 0 1 0 15.8 0a7.9 5.2 0 1 0 -15.8 0zM896.4 226.8m-7.9 0a7.9 5.2 0 1 0 15.8 0a7.9 5.2 0 1 0 -15.8 0zM899.6 226.2m-7.9 0a7.9 5.2 0 1 0 15.8 0a7.9 5.2 0 1 0 -15.8 0zM902.8 223.6m-7.9 0a7.9 5.2 0 1 0 15.8 0a7.9 5.2 0 1 0 -15.8 0zM906.0 224.2m-7.9 0a7.9 5.2 0 1 0 15.8 0a7.9 5.2 0 1 0 -15.8 0zM909.0 228.1m-7.9 0a7.9 5.2 0 1 0 15.8 0a7.9 5.2 0 1 0 -15.8 0zM912.0 230.5m-7.9 0a7.9 5.2 0 1 0 15.8 0a7.9 5.2 0 1 0 -15.8 0zM915.0 232.4m-7.9 0a7.9 5.2 0 1 0 15.8 0a7.9 5.2 0 1 0 -15.8 0zM918.0 233.9m-7.9 0a7.9 5.2 0 1 0 15.8 0a7.9 5.2 0 1 0 -15.8 0zM921.0 234.1m-7.9 0a7.9 5.2 0 1 0 15.8 0a7.9 5.2 0 1 0 -15.8 0zM924.0 233.3m-7.9 0a7.9 5.2 0 1 0 15.8 0a7.9 5.2 0 1 0 -15.8 0zM927.0 233.7m-7.9 0a7.9 5.2 0 1 0 15.8 0a7.9 5.2 0 1 0 -15.8 0zM930.0 233.2m-7.9 0a7.9 5.2 0 1 0 15.8 0a7.9 5.2 0 1 0 -15.8 0zM933.0 235.2m-7.9 0a7.9 5.2 0 1 0 15.8 0a7.9 5.2 0 1 0 -15.8 0zM936.0 235.1m-7.9 0a7.9 5.2 0 1 0 15.8 0a7.9 5.2 0 1 0 -15.8 0zM939.5 233.7m-7.9 0a7.9 5.2 0 1 0 15.8 0a7.9 5.2 0 1 0 -15.8 0zM943.0 233.6m-7.9 0a7.9 5.2 0 1 0 15.8 0a7.9 5.2 0 1 0 -15.8 0zM946.5 233.9m-7.9 0a7.9 5.2 0 1 0 15.8 0a7.9 5.2 0 1 0 -15.8 0zM950.0 234.6m-7.9 0a7.9 5.2 0 1 0 15.8 0a7.9 5.2 0 1 0 -15.8 0z" fill="#5b9bd5"/>
</svg>
<div class="cal">
<div class="h" style="left:0px;width:155.7px">星期一</div>
<div class="h" style="left:155.7px;width:155.3px">星期二</div>
<div class="h" style="left:311px;width:155px">星期三</div>
<div class="h" style="left:466px;width:169px">星期四</div>
<div class="h" style="left:635px;width:155px">星期五</div>
<div class="h we" style="left:790px;width:155px">星期六</div>
<div class="h we" style="left:945px;width:155.5px">星期日</div>
<div class="vl" style="left:-0.5px;top:29.5px;height:773.5px"></div>
<div class="vl" style="left:155.2px;top:29.5px;height:773.5px"></div>
<div class="vl" style="left:310.5px;top:29.5px;height:773.5px"></div>
<div class="vl" style="left:465.5px;top:29.5px;height:773.5px"></div>
<div class="vl" style="left:634.5px;top:29.5px;height:773.5px"></div>
<div class="vl" style="left:789.5px;top:29.5px;height:773.5px"></div>
<div class="vl" style="left:944.5px;top:29.5px;height:773.5px"></div>
<div class="vl" style="left:1100px;top:29.5px;height:773.5px"></div>
<div class="hl" style="top:219px"></div>
<div class="hl" style="top:395px"></div>
<div class="hl" style="top:563.5px"></div>
<div class="hl" style="top:691.5px"></div>
<div class="hl" style="top:798.5px"></div>
<div class="n" style="left:17.5px;top:31.2px">1</div>
<div class="e n" style="left:3.6px;top:57.2px">omo到期3387亿</div>
<div class="e r" style="left:3.6px;top:81px">地方债104亿</div>
<div class="e k" style="left:3.6px;top:104.8px">omo续作1076亿</div>
<div class="n" style="left:173.2px;top:31.2px">2</div>
<div class="e n" style="left:159.3px;top:57.2px">omo到期3021亿</div>
<div class="e r" style="left:159.3px;top:81px">地方债223亿</div>
<div class="e k" style="left:159.3px;top:104.8px">omo续作1563亿</div>
<div class="n" style="left:328.5px;top:31.2px">3</div>
<div class="e n" style="left:314.6px;top:57.2px">omo到期2133亿</div>
<div class="e r" style="left:314.6px;top:81px">63D国债</div>
<div class="e r" style="left:314.6px;top:104.8px">91D国债</div>
<div class="e r" style="left:314.6px;top:128.6px">地方债289亿</div>
<div class="e k" style="left:314.6px;top:152.4px">omo续作793亿</div>
<div class="n" style="left:483.5px;top:31.2px">4</div>
<div class="e n" style="left:469.6px;top:57.2px">omo到期3564亿</div>
<div class="e r" style="left:469.6px;top:81px">地方债237亿</div>
<div class="e r" style="left:469.6px;top:104.8px">NCD2310亿</div>
<div class="e k" style="left:469.6px;top:128.6px">omo续作1808亿</div>
<div class="n" style="left:652.5px;top:31.2px">5</div>
<div class="e n" style="left:637.6px;top:57.2px">omo到期3013亿</div>
<div class="e r" style="left:637.6px;top:81px">1Y国债960亿</div>
<div class="e r" style="left:637.6px;top:104.8px">30Y国债270亿</div>
<div class="e r" style="left:637.6px;top:128.6px">地方债235亿</div>
<div class="e r" style="left:637.6px;top:152.4px">NCD到期1263亿</div>
<div class="e g" style="left:637.6px;top:176.2px">缴准日</div>
<div class="e k" style="left:637.6px;top:200px">omo续作1398亿</div>
<div class="n" style="left:807.5px;top:31.2px">6</div>
<div class="n" style="left:962.5px;top:31.2px">7</div>
<div class="n" style="left:3.5px;top:221.2px">8</div>
<div class="e u" style="left:3.6px;top:249.5px">贸易数据</div>
<div class="e k" style="left:3.6px;top:274.5px">omo到期1076亿</div>
<div class="e k" style="left:3.6px;top:299.5px">omo续作1223亿</div>
<div class="n" style="left:159.2px;top:221.2px">9</div>
<div class="e k" style="left:159.3px;top:249.5px">omo到期1563亿</div>
<div class="e k" style="left:159.3px;top:274.5px">omo续作1173亿</div>
<div class="n" style="left:314.5px;top:221.2px">10</div>
<div class="e r" style="left:314.6px;top:249.5px">91D国债</div>
<div class="e r" style="left:314.6px;top:274.5px">182D国债</div>
<div class="e u" style="left:314.6px;top:299.5px">通胀数据</div>
<div class="e u" style="left:314.6px;top:324.5px">金融数据</div>
<div class="e k" style="left:314.6px;top:349.5px">omo到期793亿</div>
<div class="e n" style="left:314.6px;top:374.5px">omo续作1898亿</div>
<div class="n" style="left:469.5px;top:221.2px">11</div>
<div class="e k" style="left:469.6px;top:249.5px">omo到期1808亿</div>
<div class="n" style="left:638.5px;top:221.2px">12</div>
<div class="e r" style="left:637.6px;top:249.5px">2Y国债</div>
<div class="e r" style="left:637.6px;top:274.5px">10Y国债</div>
<div class="e k" style="left:637.6px;top:299.5px">omo到期1398亿</div>
<div class="n" style="left:793.5px;top:221.2px">13</div>
<div class="n" style="left:948.5px;top:221.2px">14</div>
<div class="n" style="left:17.5px;top:397.2px">15</div>
<div class="e g" style="left:3.6px;top:423.5px">缴税截止日</div>
<div class="e g" style="left:3.6px;top:447.8px">缴税预计1.42万亿</div>
<div class="e g" style="left:3.6px;top:472.1px">缴准日</div>
<div class="e u" style="left:3.6px;top:496.4px">经济数据</div>
<div class="e k" style="left:3.6px;top:520.7px">omo到期1223亿</div>
<div class="n" style="left:158.7px;top:397.2px">16</div>
<div class="e g" style="left:159.3px;top:423.5px">银行走款日</div>
<div class="e k" style="left:159.3px;top:447.8px">omo到期1173亿</div>
<div class="n" style="left:328.5px;top:397.2px">17</div>
<div class="e g" style="left:314.6px;top:423.5px">银行走款日</div>
<div class="e r" style="left:314.6px;top:447.8px">28D国债</div>
<div class="e r" style="left:314.6px;top:472.1px">91D国债</div>
<div class="e n" style="left:314.6px;top:496.4px">omo到期1898亿</div>
<div class="n" style="left:483.5px;top:397.2px">18</div>
<div class="n" style="left:652.5px;top:397.2px">19</div>
<div class="n" style="left:807.5px;top:397.2px">20</div>
<div class="n" style="left:962.5px;top:397.2px">21</div>
<div class="n" style="left:17.5px;top:565.7px">22</div>
<div class="e u" style="left:3.6px;top:597px">LPR报价日</div>
<div class="n" style="left:158.7px;top:565.7px">23</div>
<div class="n" style="left:328.5px;top:565.7px">24</div>
<div class="e r" style="left:314.6px;top:597px">91D国债</div>
<div class="e r" style="left:314.6px;top:625.4px">182D国债</div>
<div class="e r" style="left:314.6px;top:649px">7Y国债</div>
<div class="n" style="left:483.5px;top:565.7px">25</div>
<div class="e r" style="left:469.6px;top:597px">MLF到期3000亿</div>
<div class="e g" style="left:469.6px;top:625.4px">缴准日</div>
<div class="n" style="left:652.5px;top:565.7px">26</div>
<div class="n" style="left:807.5px;top:565.7px">27</div>
<div class="e u" style="left:793.6px;top:597px">工业企业利润数据</div>
<div class="n" style="left:962.5px;top:565.7px">28</div>
<div class="n" style="left:17.5px;top:693.7px">29</div>
<div class="e u" style="left:3.6px;top:725.8px">财政集中支出</div>
<div class="n" style="left:158.7px;top:693.7px">30</div>
<div class="e u" style="left:159.3px;top:725.8px">财政集中支出</div>
<div class="n" style="left:328.5px;top:693.7px">31</div>
<div class="e u" style="left:314.6px;top:718px">财政集中支出 预计4.13万</div>
<div class="e u" style="left:314.6px;top:736.8px">亿</div>
<div class="e u" style="left:314.6px;top:766px">官方PMI数据</div>
</div>
<div class="ft">免责声明:本文所引述机构或个人的观点、言论、数据及其他信息仅作参考和资讯传播之目的，不代表天津信唐赞同其观点或证实其描述。</div>
</body></html>
